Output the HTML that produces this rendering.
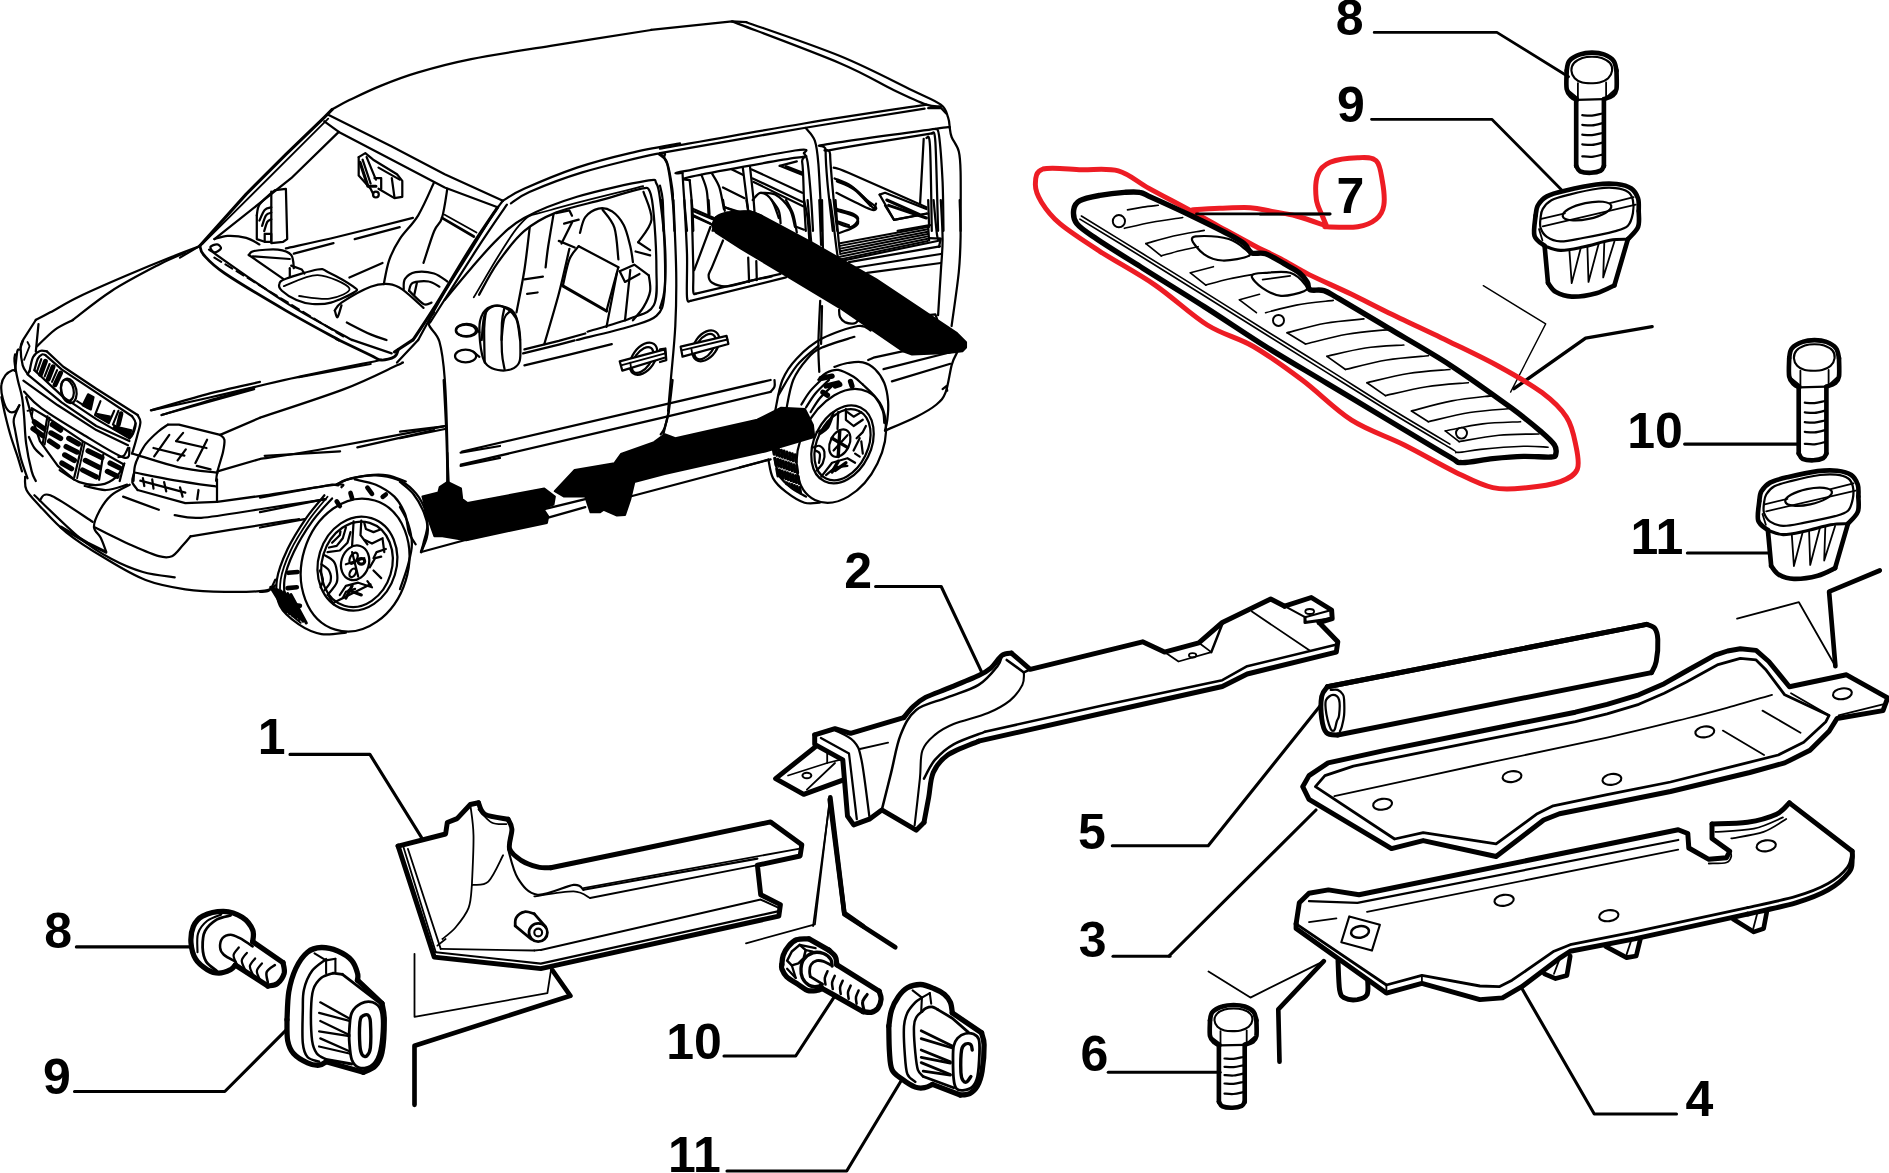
<!DOCTYPE html>
<html><head><meta charset="utf-8"><title>diagram</title>
<style>html,body{margin:0;padding:0;background:#fff;overflow:hidden}svg{display:block}
text{font-family:"Liberation Sans",Arial,sans-serif;font-weight:bold;fill:#000}
path,ellipse{stroke-linecap:round;stroke-linejoin:round}</style></head>
<body><svg width="1889" height="1173" viewBox="0 0 1889 1173">
<rect width="1889" height="1173" fill="#fff"/>
<text x="1335.7" y="34.8" font-size="50">8</text>
<path d="M1374.2 32.4 L1496.9 32.4 L1568.5 76.7" fill="none" stroke="#000" stroke-width="2.8" />
<text x="1337.0" y="121.7" font-size="50">9</text>
<path d="M1371.5 119.3 L1491.8 119.3 L1561.7 189.9" fill="none" stroke="#000" stroke-width="2.8" />
<text x="1336.4" y="213.1" font-size="50">7</text>
<path d="M1260.0 214.1 L1329.9 214.1" fill="none" stroke="#000" stroke-width="2.8" />
<path d="M1483.3 285.7 L1545.7 323.9 L1510.6 392.1" fill="none" stroke="#000" stroke-width="1.35" />
<path d="M1652.1 326.6 L1585.6 338.2 L1514.0 388.7" fill="none" stroke="#000" stroke-width="3.38" />
<path d="M1043.0 169.0 C1050.7 166.7 1068.9 169.3 1081.4 169.7 C1093.9 170.0 1107.0 167.8 1118.3 170.9 C1129.5 174.0 1136.7 181.6 1149.0 188.4 C1161.2 195.1 1180.2 205.0 1191.9 211.4 C1203.7 217.8 1209.3 221.1 1219.6 226.8 C1229.8 232.4 1243.1 239.8 1253.4 245.2 C1263.6 250.6 1271.8 254.1 1281.0 259.0 C1290.2 263.9 1296.8 268.5 1308.6 274.4 C1320.4 280.2 1338.3 287.9 1351.6 294.3 C1364.9 300.7 1372.1 304.8 1388.4 312.7 C1404.8 320.7 1431.4 332.9 1449.9 341.9 C1468.3 350.9 1483.6 358.0 1499.0 366.5 C1514.3 374.9 1530.7 384.1 1542.0 392.6 C1553.2 401.0 1560.9 408.4 1566.5 417.1 C1572.2 425.8 1574.0 436.1 1575.7 444.8 C1577.5 453.5 1579.8 463.2 1577.3 469.3 C1574.7 475.5 1568.8 478.5 1560.4 481.6 C1551.9 484.7 1537.9 486.7 1526.6 487.7 C1515.4 488.8 1504.6 490.3 1492.8 487.7 C1481.1 485.2 1470.8 479.6 1456.0 472.4 C1441.2 465.2 1421.2 453.5 1403.8 444.8 C1386.4 436.1 1368.5 430.9 1351.6 420.2 C1334.7 409.4 1318.9 392.6 1302.5 380.3 C1286.1 368.0 1269.2 355.7 1253.4 346.5 C1237.5 337.3 1223.7 335.2 1207.3 325.0 C1190.9 314.8 1173.0 297.4 1155.1 285.1 C1137.2 272.8 1115.7 261.6 1099.8 251.3 C1084.0 241.1 1069.6 231.9 1059.9 223.7 C1050.2 215.5 1045.6 208.8 1041.5 202.2 C1037.4 195.5 1035.1 189.3 1035.4 183.8 C1035.6 178.2 1035.4 171.4 1043.0 169.0Z" fill="none" stroke="#ed1c24" stroke-width="4.96" />
<path d="M1191.9 209.9 C1196.5 209.6 1209.9 208.7 1219.6 208.3 C1229.3 208.0 1241.6 207.2 1250.3 207.7 C1259.0 208.2 1264.1 210.0 1271.8 211.4 C1279.4 212.8 1287.6 213.7 1296.3 216.0 C1305.0 218.3 1318.9 223.4 1324.0 225.2 C1329.1 227.0 1321.4 226.5 1327.0 226.8 C1332.7 227.0 1349.6 228.0 1357.7 226.8 C1365.9 225.5 1371.8 222.7 1376.2 219.1 C1380.5 215.5 1382.8 211.7 1383.8 205.3 C1384.9 198.9 1383.6 188.1 1382.3 180.7 C1381.0 173.3 1380.3 164.6 1376.2 160.7 C1372.1 156.9 1365.4 157.4 1357.7 157.7 C1350.1 157.9 1336.8 159.5 1330.1 162.3 C1323.5 165.1 1320.1 168.4 1317.8 174.6 C1315.5 180.7 1315.5 192.2 1316.3 199.1 C1317.1 206.0 1320.6 211.4 1322.4 216.0 C1324.2 220.6 1326.3 225.0 1327.0 226.8" fill="none" stroke="#ed1c24" stroke-width="4.96" />
<path d="M1196.5 213.9 L1330.1 213.9" fill="none" stroke="#000" stroke-width="2.8" />
<path d="M1073.7 209.9 C1074.2 206.0 1075.5 203.1 1079.9 200.7 C1084.2 198.3 1092.4 196.8 1099.8 195.4 C1107.3 194.1 1117.7 192.9 1124.4 192.4 C1131.0 191.9 1135.1 191.5 1139.7 192.4 C1144.4 193.2 1143.3 193.7 1152.0 197.6 C1160.7 201.5 1179.1 209.9 1191.9 216.0 C1204.7 222.2 1220.1 229.8 1228.8 234.4 C1237.5 239.0 1240.3 240.6 1244.1 243.6 C1248.0 246.7 1248.2 251.2 1251.8 252.9 C1255.4 254.5 1260.3 252.0 1265.6 253.8 C1271.0 255.6 1278.4 260.4 1284.1 263.6 C1289.7 266.8 1295.6 269.7 1299.4 272.8 C1303.2 275.9 1305.3 279.2 1307.1 282.0 C1308.9 284.8 1307.3 288.3 1310.2 289.7 C1313.0 291.1 1319.1 289.1 1324.0 290.6 C1328.8 292.2 1328.6 292.7 1339.3 298.9 C1350.1 305.2 1370.0 317.1 1388.4 328.1 C1406.9 339.1 1429.4 351.6 1449.9 364.9 C1470.3 378.2 1495.9 396.7 1511.3 407.9 C1526.6 419.2 1534.8 426.3 1542.0 432.5 C1549.1 438.6 1551.9 441.2 1554.3 444.8 C1556.6 448.3 1556.3 451.9 1555.8 454.0 C1555.3 456.0 1556.6 456.6 1551.2 457.0 C1545.8 457.5 1533.3 456.2 1523.5 456.4 C1513.8 456.7 1503.1 457.6 1492.8 458.6 C1482.6 459.6 1469.3 462.8 1462.1 462.6 C1455.0 462.3 1462.1 464.1 1449.9 457.0 C1437.6 450.0 1408.9 432.5 1388.4 420.2 C1368.0 407.9 1347.5 395.6 1327.0 383.4 C1306.6 371.1 1286.1 359.3 1265.6 346.5 C1245.2 333.7 1224.7 319.6 1204.2 306.6 C1183.8 293.5 1160.7 279.5 1142.8 268.2 C1124.9 257.0 1107.8 246.5 1096.8 239.0 C1085.8 231.6 1080.6 228.6 1076.8 223.7 C1073.0 218.8 1073.2 213.7 1073.7 209.9Z" fill="none" stroke="#000" stroke-width="5.42" />
<path d="M1079.9 219.1 C1090.4 225.5 1122.1 244.7 1142.8 257.5 C1163.5 270.3 1183.8 283.1 1204.2 295.8 C1224.7 308.6 1245.2 321.4 1265.6 334.2 C1286.1 347.0 1306.6 359.8 1327.0 372.6 C1347.5 385.4 1368.0 398.4 1388.4 411.0 C1408.9 423.5 1438.3 440.9 1449.9 447.8 C1461.4 454.7 1452.4 452.2 1457.5 452.4 C1462.7 452.7 1469.6 450.4 1480.6 449.4 C1491.6 448.3 1512.3 446.7 1523.5 446.3 C1534.8 445.9 1544.0 447.1 1548.1 447.2" fill="none" stroke="#000" stroke-width="1.65" />
<path d="M1081.4 216.0 C1091.6 222.3 1122.3 241.1 1142.8 253.8 C1163.3 266.4 1183.8 279.1 1204.2 291.9 C1224.7 304.6 1245.2 317.7 1265.6 330.5 C1286.1 343.3 1306.6 355.8 1327.0 368.6 C1347.5 381.4 1368.0 394.7 1388.4 407.3 C1408.9 419.9 1439.6 438.0 1449.9 444.1" fill="none" stroke="#000" stroke-width="1.65" />
<path d="M1127.5 209.9 C1130.0 209.4 1137.7 207.9 1142.8 207.1 C1147.9 206.3 1155.6 205.6 1158.2 205.3" fill="none" stroke="#000" stroke-width="1.65" />
<path d="M1124.4 228.3 C1129.0 227.3 1142.3 223.9 1152.0 222.2 C1161.8 220.4 1177.6 218.3 1182.7 217.5" fill="none" stroke="#000" stroke-width="1.65" />
<path d="M1145.9 243.6 C1150.5 242.4 1163.8 238.2 1173.5 236.0 C1183.2 233.8 1199.1 231.4 1204.2 230.4" fill="none" stroke="#000" stroke-width="1.65" />
<path d="M1145.9 243.6 L1161.2 255.9" fill="none" stroke="#000" stroke-width="1.65" />
<path d="M1161.2 255.9 C1164.3 255.1 1173.5 252.2 1179.7 250.7 C1185.8 249.2 1195.0 247.4 1198.1 246.7" fill="none" stroke="#000" stroke-width="1.65" />
<path d="M1191.9 239.0 C1191.9 236.0 1198.1 236.0 1204.2 236.0 C1210.4 236.0 1222.1 237.0 1228.8 239.0 C1235.4 241.1 1240.8 245.4 1244.1 248.3 C1247.5 251.1 1252.3 253.9 1248.7 255.9 C1245.2 258.0 1230.1 260.8 1222.6 260.5 C1215.2 260.3 1209.3 258.0 1204.2 254.4 C1199.1 250.8 1191.9 242.1 1191.9 239.0Z" fill="none" stroke="#000" stroke-width="2.24" />
<path d="M1190.4 272.8 L1213.4 266.7" fill="none" stroke="#000" stroke-width="1.65" />
<path d="M1190.4 272.8 L1205.8 285.1" fill="none" stroke="#000" stroke-width="1.65" />
<path d="M1205.8 285.1 C1209.6 284.1 1220.9 280.7 1228.8 279.0 C1236.7 277.2 1249.3 275.1 1253.4 274.4" fill="none" stroke="#000" stroke-width="1.65" />
<path d="M1251.8 275.9 C1252.3 273.3 1259.2 273.3 1265.6 272.8 C1272.0 272.3 1283.5 270.8 1290.2 272.8 C1296.8 274.9 1303.2 282.0 1305.5 285.1 C1307.9 288.2 1308.1 289.4 1304.0 291.2 C1299.9 293.0 1287.9 296.4 1281.0 295.8 C1274.1 295.3 1267.4 291.5 1262.6 288.2 C1257.7 284.8 1251.3 278.4 1251.8 275.9Z" fill="none" stroke="#000" stroke-width="2.24" />
<path d="M1262.6 279.6 L1290.2 275.9" fill="none" stroke="#000" stroke-width="1.65" />
<path d="M1239.5 299.8 L1259.5 294.3" fill="none" stroke="#000" stroke-width="1.65" />
<path d="M1239.5 299.8 L1256.4 312.7" fill="none" stroke="#000" stroke-width="1.65" />
<path d="M1265.6 312.7 C1270.7 311.5 1285.1 307.1 1296.3 305.1 C1307.6 303.0 1327.0 301.2 1333.2 300.4" fill="none" stroke="#000" stroke-width="1.65" />
<ellipse cx="1118.9" cy="221.2" rx="6.1" ry="6.1" fill="none" stroke="#000" stroke-width="1.95" transform="rotate(0 1118.9 221.2)"/>
<ellipse cx="1278.5" cy="320.4" rx="5.5" ry="5.5" fill="none" stroke="#000" stroke-width="1.95" transform="rotate(0 1278.5 320.4)"/>
<ellipse cx="1461.5" cy="433.1" rx="5.5" ry="5.5" fill="none" stroke="#000" stroke-width="1.95" transform="rotate(0 1461.5 433.1)"/>
<path d="M1287.1 332.7 C1293.5 331.1 1312.7 325.5 1325.5 323.2 C1338.3 320.9 1357.5 319.6 1363.9 318.9" fill="none" stroke="#000" stroke-width="1.65" />
<path d="M1287.1 332.7 L1305.5 344.0" fill="none" stroke="#000" stroke-width="1.65" />
<path d="M1305.5 344.0 C1312.5 342.4 1333.2 336.6 1347.0 334.2 C1360.8 331.8 1381.5 330.4 1388.4 329.6" fill="none" stroke="#000" stroke-width="1.65" />
<path d="M1327.0 356.3 C1333.4 354.9 1352.6 349.9 1365.4 348.0 C1378.2 346.1 1397.4 345.5 1403.8 345.0" fill="none" stroke="#000" stroke-width="1.65" />
<path d="M1327.0 356.3 L1345.5 369.5" fill="none" stroke="#000" stroke-width="1.65" />
<path d="M1345.5 369.5 C1352.4 367.9 1373.1 362.3 1386.9 360.0 C1400.7 357.7 1421.5 356.4 1428.4 355.7" fill="none" stroke="#000" stroke-width="1.65" />
<path d="M1367.0 382.7 C1373.9 381.2 1394.6 375.7 1408.4 373.5 C1422.2 371.3 1442.9 370.2 1449.9 369.5" fill="none" stroke="#000" stroke-width="1.65" />
<path d="M1367.0 382.7 L1385.4 395.6" fill="none" stroke="#000" stroke-width="1.65" />
<path d="M1385.4 395.6 C1392.3 394.1 1413.0 388.9 1426.8 386.7 C1440.6 384.6 1461.4 383.4 1468.3 382.7" fill="none" stroke="#000" stroke-width="1.65" />
<path d="M1411.5 411.0 C1418.2 409.3 1438.4 403.4 1452.0 400.9 C1465.6 398.3 1486.0 396.5 1492.8 395.6" fill="none" stroke="#000" stroke-width="1.65" />
<path d="M1411.5 411.0 L1428.4 421.7" fill="none" stroke="#000" stroke-width="1.65" />
<path d="M1428.4 421.7 C1435.3 420.2 1456.0 414.7 1469.8 412.5 C1483.6 410.3 1504.4 409.2 1511.3 408.5" fill="none" stroke="#000" stroke-width="1.65" />
<path d="M1445.3 430.9 C1451.5 429.8 1470.2 425.4 1482.7 423.9 C1495.2 422.3 1514.2 422.1 1520.5 421.7" fill="none" stroke="#000" stroke-width="1.65" />
<path d="M1445.3 430.9 L1459.1 441.7" fill="none" stroke="#000" stroke-width="1.65" />
<path d="M1459.1 441.7 C1465.7 440.6 1485.7 436.5 1499.0 435.2 C1512.3 434.0 1532.2 434.2 1538.9 434.0" fill="none" stroke="#000" stroke-width="1.65" />
<path d="M1566.7 70.6 C1567.1 69.0 1567.0 63.6 1569.3 60.9 C1571.5 58.2 1576.3 55.7 1580.1 54.4 C1583.9 53.0 1588.0 52.6 1592.0 52.6 C1596.0 52.6 1600.3 53.0 1603.9 54.4 C1607.5 55.7 1611.6 58.2 1613.6 60.9 C1615.7 63.6 1616.0 69.0 1616.5 70.6" fill="none" stroke="#000" stroke-width="4.65" />
<path d="M1566.7 70.6 C1566.7 73.7 1565.9 84.7 1566.7 89.0 C1567.5 93.3 1569.7 94.8 1571.4 96.6 C1573.1 98.4 1575.9 99.3 1576.8 99.8" fill="none" stroke="#000" stroke-width="4.65" />
<path d="M1616.5 70.6 C1616.5 73.7 1617.1 84.9 1616.5 89.0 C1615.8 93.2 1614.7 93.8 1612.6 95.5 C1610.5 97.2 1605.4 98.6 1603.9 99.2" fill="none" stroke="#000" stroke-width="4.65" />
<path d="M1576.8 99.8 L1603.9 99.2" fill="none" stroke="#000" stroke-width="2.24" />
<path d="M1571.4 70.6 C1571.3 68.1 1572.2 65.1 1574.0 63.0 C1575.8 60.9 1579.3 59.1 1582.3 58.0 C1585.3 57.0 1588.8 56.7 1592.0 56.7 C1595.2 56.7 1598.7 57.0 1601.7 58.0 C1604.7 59.1 1608.2 60.9 1610.0 63.0 C1611.7 65.1 1612.4 68.1 1612.1 70.6 C1611.8 73.1 1610.3 76.2 1608.2 78.2 C1606.1 80.2 1602.3 81.7 1599.6 82.5 C1596.9 83.3 1594.9 83.2 1592.0 83.2 C1589.1 83.2 1585.1 83.3 1582.3 82.5 C1579.4 81.7 1576.5 80.2 1574.7 78.2 C1572.9 76.2 1571.5 73.1 1571.4 70.6Z" fill="none" stroke="#000" stroke-width="2.1" />
<path d="M1577.9 83.2 L1577.9 98.3" fill="none" stroke="#000" stroke-width="1.8" />
<path d="M1606.1 82.5 L1606.1 97.7" fill="none" stroke="#000" stroke-width="1.8" />
<path d="M1569.3 91.2 L1577.9 98.3" fill="none" stroke="#000" stroke-width="1.8" />
<path d="M1614.3 90.1 L1606.1 97.7" fill="none" stroke="#000" stroke-width="1.8" />
<path d="M1576.2 99.8 L1576.2 165.9" fill="none" stroke="#000" stroke-width="4.65" />
<path d="M1603.9 99.2 L1603.9 165.9" fill="none" stroke="#000" stroke-width="4.65" />
<path d="M1576.2 165.9 C1576.8 166.8 1577.6 170.1 1580.1 171.3 C1582.5 172.4 1587.5 172.9 1590.9 172.8 C1594.3 172.7 1598.5 171.8 1600.7 170.6 C1602.8 169.5 1603.4 166.7 1603.9 165.9" fill="none" stroke="#000" stroke-width="4.65" />
<path d="M1582.3 115.2 C1583.9 115.3 1588.7 115.9 1592.0 115.6 C1595.3 115.3 1600.5 113.8 1602.2 113.5" fill="none" stroke="#000" stroke-width="2.24" />
<path d="M1582.3 124.9 C1583.9 125.0 1588.7 125.7 1592.0 125.4 C1595.3 125.1 1600.5 123.6 1602.2 123.2" fill="none" stroke="#000" stroke-width="2.24" />
<path d="M1582.3 134.7 C1583.9 134.8 1588.7 135.4 1592.0 135.1 C1595.3 134.8 1600.5 133.3 1602.2 133.0" fill="none" stroke="#000" stroke-width="2.24" />
<path d="M1582.3 144.4 C1583.9 144.5 1588.7 145.1 1592.0 144.9 C1595.3 144.6 1600.5 143.1 1602.2 142.7" fill="none" stroke="#000" stroke-width="2.24" />
<path d="M1582.3 156.3 C1583.9 156.4 1588.7 157.1 1592.0 156.8 C1595.3 156.5 1600.5 155.0 1602.2 154.6" fill="none" stroke="#000" stroke-width="2.24" />
<path d="M1535.6 215.5 C1536.0 213.8 1536.0 208.6 1537.9 205.4 C1539.8 202.2 1542.4 198.8 1546.9 196.4 C1551.4 193.9 1556.6 192.7 1564.9 190.8 C1573.2 188.8 1587.8 185.6 1596.4 184.5 C1605.0 183.3 1610.9 183.3 1616.7 184.0 C1622.5 184.7 1627.8 186.1 1631.3 188.5 C1634.9 190.9 1636.8 194.9 1638.1 198.6 C1639.3 202.4 1638.6 209.0 1638.7 211.0" fill="none" stroke="#000" stroke-width="4.65" />
<path d="M1535.6 215.5 C1535.4 218.9 1533.0 230.7 1534.5 235.8 C1536.0 240.9 1542.9 244.2 1544.6 245.9" fill="none" stroke="#000" stroke-width="4.65" />
<path d="M1638.7 211.0 C1638.6 213.6 1639.9 222.1 1638.1 226.8 C1636.3 231.5 1629.6 237.1 1627.9 239.2" fill="none" stroke="#000" stroke-width="4.65" />
<path d="M1544.6 245.9 L1548.0 283.1" fill="none" stroke="#000" stroke-width="4.65" />
<path d="M1548.0 283.1 C1549.3 284.6 1551.9 289.8 1555.9 292.1 C1559.8 294.3 1564.9 296.4 1571.7 296.6 C1578.4 296.8 1589.3 295.1 1596.4 293.2 C1603.5 291.3 1611.4 286.6 1614.4 285.3" fill="none" stroke="#000" stroke-width="4.65" />
<path d="M1614.4 285.3 L1627.9 239.2" fill="none" stroke="#000" stroke-width="4.65" />
<path d="M1544.6 245.9 C1547.3 246.7 1554.0 250.2 1560.4 250.4 C1566.8 250.6 1574.7 248.7 1582.9 247.0 C1591.2 245.4 1602.4 241.6 1609.9 240.3 C1617.4 239.0 1624.9 239.4 1627.9 239.2" fill="none" stroke="#000" stroke-width="3.12" />
<path d="M1540.6 217.8 C1541.0 214.6 1541.0 211.7 1542.8 208.8 C1544.6 205.8 1547.0 202.6 1551.4 200.2 C1555.8 197.8 1561.5 196.5 1569.4 194.6 C1577.3 192.6 1591.0 189.6 1598.7 188.5 C1606.4 187.4 1610.7 187.5 1615.6 188.1 C1620.4 188.6 1625.1 189.9 1627.9 191.9 C1630.8 193.9 1632.1 196.6 1632.9 200.2 C1633.7 203.8 1633.7 209.0 1632.9 213.3 C1632.1 217.5 1631.0 222.7 1627.9 225.7 C1624.9 228.7 1621.9 229.2 1614.4 231.3 C1606.9 233.3 1591.9 236.3 1582.9 238.0 C1573.9 239.7 1566.4 241.6 1560.4 241.4 C1554.4 241.2 1550.2 239.2 1546.9 236.9 C1543.6 234.7 1541.6 231.1 1540.6 227.9 C1539.5 224.7 1540.2 221.0 1540.6 217.8Z" fill="none" stroke="#000" stroke-width="2.24" />
<path d="M1541.3 218.9 L1564.9 213.3" fill="none" stroke="#000" stroke-width="1.8" />
<path d="M1609.9 203.1 L1633.6 197.1" fill="none" stroke="#000" stroke-width="1.8" />
<path d="M1542.8 226.3 L1635.8 204.7" fill="none" stroke="#000" stroke-width="1.8" />
<ellipse cx="1587.0" cy="211.0" rx="24.8" ry="8.1" fill="none" stroke="#000" stroke-width="2.24" transform="rotate(-12 1587.0 211.0)"/>
<path d="M1569.4 250.4 L1571.7 283.1 L1580.7 248.2" fill="none" stroke="#000" stroke-width="1.8" />
<path d="M1587.4 247.0 L1588.5 281.9 L1598.7 243.7" fill="none" stroke="#000" stroke-width="1.8" />
<path d="M1604.3 242.5 L1603.2 277.4 L1614.4 241.4" fill="none" stroke="#000" stroke-width="1.8" />
<path d="M1539.0 229.0 L1542.4 240.3" fill="none" stroke="#000" stroke-width="1.8" />
<path d="M1789.2 358.1 C1789.6 356.5 1789.5 351.1 1791.8 348.4 C1794.0 345.7 1798.8 343.2 1802.6 341.9 C1806.4 340.5 1810.5 340.1 1814.5 340.1 C1818.5 340.1 1822.8 340.5 1826.4 341.9 C1830.0 343.2 1834.1 345.7 1836.1 348.4 C1838.2 351.1 1838.5 356.5 1839.0 358.1" fill="none" stroke="#000" stroke-width="4.65" />
<path d="M1789.2 358.1 C1789.2 361.2 1788.4 372.2 1789.2 376.5 C1790.0 380.8 1792.2 382.3 1793.9 384.1 C1795.6 385.9 1798.4 386.8 1799.3 387.3" fill="none" stroke="#000" stroke-width="4.65" />
<path d="M1839.0 358.1 C1839.0 361.2 1839.6 372.4 1839.0 376.5 C1838.3 380.7 1837.2 381.3 1835.1 383.0 C1833.0 384.7 1827.9 386.1 1826.4 386.7" fill="none" stroke="#000" stroke-width="4.65" />
<path d="M1799.3 387.3 L1826.4 386.7" fill="none" stroke="#000" stroke-width="2.24" />
<path d="M1793.9 358.1 C1793.8 355.6 1794.7 352.6 1796.5 350.5 C1798.3 348.4 1801.8 346.6 1804.8 345.5 C1807.8 344.5 1811.3 344.2 1814.5 344.2 C1817.7 344.2 1821.2 344.5 1824.2 345.5 C1827.2 346.6 1830.7 348.4 1832.5 350.5 C1834.2 352.6 1834.9 355.6 1834.6 358.1 C1834.3 360.6 1832.8 363.7 1830.7 365.7 C1828.6 367.7 1824.8 369.2 1822.1 370.0 C1819.4 370.8 1817.4 370.7 1814.5 370.7 C1811.6 370.7 1807.6 370.8 1804.8 370.0 C1801.9 369.2 1799.0 367.7 1797.2 365.7 C1795.4 363.7 1794.0 360.6 1793.9 358.1Z" fill="none" stroke="#000" stroke-width="2.1" />
<path d="M1800.4 370.7 L1800.4 385.8" fill="none" stroke="#000" stroke-width="1.8" />
<path d="M1828.6 370.0 L1828.6 385.2" fill="none" stroke="#000" stroke-width="1.8" />
<path d="M1791.8 378.7 L1800.4 385.8" fill="none" stroke="#000" stroke-width="1.8" />
<path d="M1836.8 377.6 L1828.6 385.2" fill="none" stroke="#000" stroke-width="1.8" />
<path d="M1798.7 387.3 L1798.7 453.4" fill="none" stroke="#000" stroke-width="4.65" />
<path d="M1826.4 386.7 L1826.4 453.4" fill="none" stroke="#000" stroke-width="4.65" />
<path d="M1798.7 453.4 C1799.3 454.3 1800.1 457.6 1802.6 458.8 C1805.0 459.9 1810.0 460.4 1813.4 460.3 C1816.8 460.2 1821.0 459.3 1823.2 458.1 C1825.3 457.0 1825.9 454.2 1826.4 453.4" fill="none" stroke="#000" stroke-width="4.65" />
<path d="M1804.8 402.7 C1806.4 402.8 1811.2 403.4 1814.5 403.1 C1817.8 402.8 1823.0 401.3 1824.7 401.0" fill="none" stroke="#000" stroke-width="2.24" />
<path d="M1804.8 412.4 C1806.4 412.5 1811.2 413.2 1814.5 412.9 C1817.8 412.6 1823.0 411.1 1824.7 410.7" fill="none" stroke="#000" stroke-width="2.24" />
<path d="M1804.8 422.2 C1806.4 422.3 1811.2 422.9 1814.5 422.6 C1817.8 422.3 1823.0 420.8 1824.7 420.5" fill="none" stroke="#000" stroke-width="2.24" />
<path d="M1804.8 431.9 C1806.4 432.0 1811.2 432.6 1814.5 432.4 C1817.8 432.1 1823.0 430.6 1824.7 430.2" fill="none" stroke="#000" stroke-width="2.24" />
<path d="M1804.8 443.8 C1806.4 443.9 1811.2 444.6 1814.5 444.3 C1817.8 444.0 1823.0 442.5 1824.7 442.1" fill="none" stroke="#000" stroke-width="2.24" />
<path d="M1759.3 501.0 C1759.6 499.4 1759.6 494.3 1761.4 491.3 C1763.3 488.2 1765.8 485.0 1770.1 482.6 C1774.4 480.3 1779.5 479.1 1787.4 477.2 C1795.4 475.3 1809.4 472.2 1817.7 471.1 C1826.0 470.1 1831.6 470.1 1837.2 470.7 C1842.8 471.3 1847.9 472.7 1851.3 475.0 C1854.7 477.4 1856.6 481.2 1857.8 484.8 C1859.0 488.4 1858.3 494.7 1858.4 496.7" fill="none" stroke="#000" stroke-width="4.65" />
<path d="M1759.3 501.0 C1759.1 504.3 1756.8 515.6 1758.2 520.5 C1759.6 525.4 1766.3 528.6 1767.9 530.2" fill="none" stroke="#000" stroke-width="4.65" />
<path d="M1858.4 496.7 C1858.3 499.2 1859.5 507.3 1857.8 511.8 C1856.1 516.3 1849.7 521.8 1848.0 523.7" fill="none" stroke="#000" stroke-width="4.65" />
<path d="M1767.9 530.2 L1771.2 566.0" fill="none" stroke="#000" stroke-width="4.65" />
<path d="M1771.2 566.0 C1772.5 567.4 1775.0 572.5 1778.8 574.6 C1782.6 576.8 1787.4 578.8 1793.9 578.9 C1800.4 579.1 1810.9 577.5 1817.7 575.7 C1824.6 573.9 1832.2 569.4 1835.1 568.1" fill="none" stroke="#000" stroke-width="4.65" />
<path d="M1835.1 568.1 L1848.0 523.7" fill="none" stroke="#000" stroke-width="4.65" />
<path d="M1767.9 530.2 C1770.5 531.0 1777.0 534.4 1783.1 534.6 C1789.2 534.7 1796.8 532.9 1804.7 531.3 C1812.7 529.7 1823.5 526.1 1830.7 524.8 C1837.9 523.6 1845.2 523.9 1848.0 523.7" fill="none" stroke="#000" stroke-width="3.12" />
<path d="M1764.0 503.2 C1764.4 500.1 1764.5 497.3 1766.2 494.5 C1767.9 491.7 1770.2 488.6 1774.4 486.3 C1778.7 484.0 1784.2 482.8 1791.8 480.9 C1799.3 479.0 1812.5 476.1 1819.9 475.0 C1827.3 474.0 1831.4 474.1 1836.1 474.6 C1840.8 475.1 1845.3 476.3 1848.0 478.3 C1850.8 480.2 1852.0 482.9 1852.8 486.3 C1853.6 489.7 1853.6 494.8 1852.8 498.8 C1852.0 502.9 1851.0 507.9 1848.0 510.8 C1845.1 513.6 1842.3 514.2 1835.1 516.2 C1827.8 518.1 1813.4 521.0 1804.7 522.7 C1796.1 524.3 1788.9 526.1 1783.1 525.9 C1777.3 525.7 1773.3 523.7 1770.1 521.6 C1766.9 519.4 1765.1 516.0 1764.0 512.9 C1763.0 509.8 1763.7 506.2 1764.0 503.2Z" fill="none" stroke="#000" stroke-width="2.24" />
<path d="M1764.7 504.3 L1787.4 498.8" fill="none" stroke="#000" stroke-width="1.8" />
<path d="M1830.7 489.1 L1853.5 483.3" fill="none" stroke="#000" stroke-width="1.8" />
<path d="M1766.2 511.4 L1855.6 490.6" fill="none" stroke="#000" stroke-width="1.8" />
<ellipse cx="1808.6" cy="496.7" rx="23.8" ry="7.8" fill="none" stroke="#000" stroke-width="2.24" transform="rotate(-12 1808.6 496.7)"/>
<path d="M1791.8 534.6 L1793.9 566.0 L1802.6 532.4" fill="none" stroke="#000" stroke-width="1.8" />
<path d="M1809.1 531.3 L1810.2 564.9 L1819.9 528.1" fill="none" stroke="#000" stroke-width="1.8" />
<path d="M1825.3 527.0 L1824.2 560.5 L1835.1 525.9" fill="none" stroke="#000" stroke-width="1.8" />
<path d="M1762.5 514.0 L1765.8 524.8" fill="none" stroke="#000" stroke-width="1.8" />
<text x="1627.2" y="448.0" font-size="50">10</text>
<path d="M1684.6 444.1 L1798.7 444.1" fill="none" stroke="#000" stroke-width="3.12" />
<text x="1630.5" y="554.1" font-size="50">11</text>
<path d="M1687.4 553.0 L1769.0 553.0" fill="none" stroke="#000" stroke-width="3.12" />
<path d="M1327.4 686.8 L1646.7 624.4" fill="none" stroke="#000" stroke-width="4.96" />
<path d="M1327.4 686.8 L1646.7 624.4" fill="none" stroke="#000" stroke-width="4.96" />
<path d="M1646.7 624.4 C1648.1 625.0 1652.8 625.7 1654.7 628.2 C1656.5 630.7 1657.6 633.7 1657.8 639.3 C1658.1 644.8 1657.3 655.9 1656.2 661.5 C1655.2 667.0 1652.3 670.7 1651.5 672.6" fill="none" stroke="#000" stroke-width="4.96" />
<path d="M1651.5 672.6 L1337.6 735.0" fill="none" stroke="#000" stroke-width="4.96" />
<path d="M1337.6 735.0 C1335.7 734.7 1329.1 735.6 1326.5 732.8 C1323.8 730.1 1322.5 724.6 1321.7 718.5 C1320.9 712.5 1320.8 701.6 1321.7 696.4 C1322.7 691.1 1326.5 688.4 1327.4 686.8" fill="none" stroke="#000" stroke-width="4.96" />
<path d="M1333.0 694.9 C1330.8 694.9 1327.3 697.5 1326.1 699.9 C1324.9 702.3 1325.5 705.8 1325.7 709.1 C1326.0 712.4 1326.8 716.5 1327.6 719.8 C1328.4 723.1 1329.8 727.1 1330.7 729.0 C1331.6 730.9 1332.3 730.9 1333.0 730.9 C1333.7 730.9 1334.3 730.6 1334.9 729.0 C1335.5 727.4 1336.1 723.6 1336.8 721.3 C1337.5 719.0 1338.7 718.8 1339.1 715.2 C1339.5 711.6 1340.1 703.3 1339.1 699.9 C1338.1 696.5 1335.2 694.9 1333.0 694.9Z" fill="none" stroke="#000" stroke-width="2.24" />
<path d="M1330.7 689.9 C1331.8 689.9 1335.6 689.1 1337.6 689.9 C1339.6 690.7 1341.8 692.8 1342.9 694.5 C1344.0 696.2 1343.9 696.4 1344.1 699.9 C1344.3 703.4 1344.5 710.7 1344.1 715.2 C1343.7 719.7 1342.5 724.0 1341.8 726.7 C1341.1 729.4 1340.2 730.5 1339.9 731.3" fill="none" stroke="#000" stroke-width="2.24" />
<path d="M1302.7 786.7 L1309.0 775.6 L1328.1 762.9 L1385.1 750.3 L1480.3 731.2 L1575.4 712.2 L1607.1 704.3 L1638.8 694.8 L1664.2 683.7 L1686.4 671.0 L1714.9 655.1 L1727.6 651.0 L1740.3 648.8 L1756.1 650.4 L1768.8 661.5 L1789.4 686.8 L1846.5 674.8 L1887.7 697.9 L1883.0 710.6 L1837.0 718.5 L1829.1 731.2 L1810.0 750.3 L1784.7 762.9 L1749.8 772.5 L1670.5 791.5 L1607.1 804.2 L1559.5 813.7 L1543.7 820.0 L1496.1 856.5 L1423.2 840.6 L1391.5 848.6 L1309.0 799.4Z" fill="none" stroke="#000" stroke-width="4.96" />
<path d="M1315.4 786.7 L1324.9 775.6 L1353.4 766.1 L1480.3 740.7 L1575.4 721.7 L1607.1 713.8 L1638.8 704.3 L1664.2 693.2 L1686.4 682.1 L1718.1 664.6 L1740.3 658.3 L1756.1 659.9 L1765.6 669.4 L1784.7 694.8 L1829.1 715.4 L1825.9 721.7 L1803.7 742.3 L1778.3 755.0 L1733.9 766.1 L1670.5 782.0 L1607.1 794.7 L1553.2 805.8 L1537.3 813.7 L1496.1 843.8 L1423.2 832.7 L1394.6 839.0Z" fill="none" stroke="#000" stroke-width="2.8" />
<path d="M1334.4 796.2 C1358.7 791.0 1434.8 774.3 1480.3 764.5 C1525.7 754.8 1572.7 745.2 1607.1 737.6 C1641.5 729.9 1665.2 723.8 1686.4 718.5 C1707.5 713.3 1719.7 709.8 1733.9 705.9 C1748.2 701.9 1765.6 696.6 1772.0 694.8" fill="none" stroke="#000" stroke-width="1.8" />
<path d="M1791.0 693.2 L1829.1 715.4" fill="none" stroke="#000" stroke-width="1.8" />
<path d="M1762.5 710.6 L1800.5 732.8" fill="none" stroke="#000" stroke-width="1.8" />
<path d="M1722.8 730.6 L1764.1 755.0" fill="none" stroke="#000" stroke-width="1.8" />
<path d="M1838.6 715.4 L1883.0 704.3" fill="none" stroke="#000" stroke-width="1.8" />
<ellipse cx="1382.6" cy="804.2" rx="9.5" ry="5.4" fill="none" stroke="#000" stroke-width="2.1" transform="rotate(-8 1382.6 804.2)"/>
<ellipse cx="1512.0" cy="776.6" rx="9.5" ry="5.4" fill="none" stroke="#000" stroke-width="2.1" transform="rotate(-8 1512.0 776.6)"/>
<ellipse cx="1611.9" cy="779.4" rx="9.5" ry="5.4" fill="none" stroke="#000" stroke-width="2.1" transform="rotate(-8 1611.9 779.4)"/>
<ellipse cx="1704.8" cy="731.9" rx="9.5" ry="5.4" fill="none" stroke="#000" stroke-width="2.1" transform="rotate(-8 1704.8 731.9)"/>
<ellipse cx="1842.4" cy="693.8" rx="9.5" ry="5.4" fill="none" stroke="#000" stroke-width="2.1" transform="rotate(-8 1842.4 693.8)"/>
<path d="M1737.1 618.7 L1798.9 602.2 L1835.4 666.2" fill="none" stroke="#000" stroke-width="1.8" />
<path d="M1879.8 570.5 L1829.1 591.7 L1835.4 666.2" fill="none" stroke="#000" stroke-width="4.65" />
<path d="M1296.1 923.8 L1299.3 902.8 L1309.0 893.2 L1328.4 889.9 L1359.0 894.8 L1678.2 829.7 L1687.8 833.5 L1688.8 848.0 L1708.8 859.3 L1726.5 857.7 L1729.7 851.3 L1712.0 838.4 L1712.0 823.9" fill="none" stroke="#000" stroke-width="4.96" />
<path d="M1712.0 823.9 C1717.9 823.6 1736.7 823.9 1747.5 822.2 C1758.2 820.6 1769.5 817.4 1776.5 814.2 C1783.5 811.0 1787.2 804.8 1789.4 802.9" fill="none" stroke="#000" stroke-width="4.96" />
<path d="M1789.4 802.9 L1852.2 851.3" fill="none" stroke="#000" stroke-width="4.96" />
<path d="M1852.2 851.3 C1851.4 853.9 1851.4 862.0 1847.4 867.4 C1843.4 872.7 1836.7 878.7 1828.1 883.5 C1819.5 888.3 1809.3 892.4 1795.8 896.4 C1782.4 900.4 1755.5 905.8 1747.5 907.7" fill="none" stroke="#000" stroke-width="2.8" />
<path d="M1747.5 907.7 L1634.6 931.9 L1570.2 944.7 L1554.0 951.2 L1512.1 980.2 L1499.2 986.7 L1479.9 986.0 L1421.9 975.4 L1386.4 985.0 L1296.1 923.8" fill="none" stroke="#000" stroke-width="2.8" />
<path d="M1852.2 851.3 C1852.2 852.6 1852.8 855.8 1852.2 859.3 C1851.7 862.8 1853.1 867.1 1849.0 872.2 C1845.0 877.3 1836.9 884.8 1828.1 889.9 C1819.2 895.0 1809.3 898.8 1795.8 902.8 C1782.4 906.9 1755.5 912.2 1747.5 914.1" fill="none" stroke="#000" stroke-width="4.96" />
<path d="M1747.5 914.1 L1634.6 938.9 L1570.2 951.2 L1560.5 957.6 L1521.8 986.7 L1502.5 997.9 L1479.9 999.6 L1421.9 983.4 L1386.4 993.1 L1296.1 928.6 L1296.1 923.8" fill="none" stroke="#000" stroke-width="4.96" />
<path d="M1386.4 985.0 L1386.4 993.1" fill="none" stroke="#000" stroke-width="1.8" />
<path d="M1421.9 975.4 L1421.9 983.4" fill="none" stroke="#000" stroke-width="1.8" />
<path d="M1309.0 901.2 L1357.4 902.8 L1678.2 840.0" fill="none" stroke="#000" stroke-width="2.24" />
<path d="M1367.0 911.9 L1678.2 849.6" fill="none" stroke="#000" stroke-width="1.8" />
<path d="M1309.0 922.2 L1336.4 918.3" fill="none" stroke="#000" stroke-width="1.8" />
<path d="M1715.2 831.9 C1721.7 831.4 1742.6 831.1 1753.9 828.7 C1765.2 826.3 1778.1 819.3 1782.9 817.4" fill="none" stroke="#000" stroke-width="1.8" />
<path d="M1731.3 838.4 C1736.7 837.3 1754.5 835.1 1763.6 831.9 C1772.7 828.7 1782.4 821.2 1786.2 819.0" fill="none" stroke="#000" stroke-width="1.8" />
<path d="M1729.7 851.3 C1730.0 852.1 1731.9 854.2 1731.3 856.1 C1730.8 858.0 1730.3 861.3 1726.5 862.5 C1722.8 863.8 1711.7 863.3 1708.8 863.5" fill="none" stroke="#000" stroke-width="1.8" />
<ellipse cx="1504.1" cy="900.3" rx="9.7" ry="5.5" fill="none" stroke="#000" stroke-width="2.1" transform="rotate(-8 1504.1 900.3)"/>
<ellipse cx="1608.8" cy="915.7" rx="9.7" ry="5.5" fill="none" stroke="#000" stroke-width="2.1" transform="rotate(-8 1608.8 915.7)"/>
<ellipse cx="1766.2" cy="845.8" rx="9.7" ry="5.5" fill="none" stroke="#000" stroke-width="2.1" transform="rotate(-8 1766.2 845.8)"/>
<path d="M1349.3 916.4 L1379.9 924.8 L1371.9 950.6 L1341.3 942.2Z" fill="none" stroke="#000" stroke-width="2.1" />
<ellipse cx="1360.0" cy="931.9" rx="9.0" ry="5.8" fill="none" stroke="#000" stroke-width="2.52" transform="rotate(-8 1360.0 931.9)"/>
<path d="M1338.0 960.9 C1338.3 965.7 1338.6 983.7 1339.6 989.9 C1340.7 996.1 1341.5 996.3 1344.5 997.9 C1347.4 999.6 1353.6 1000.1 1357.4 999.6 C1361.1 999.0 1365.3 997.9 1367.0 994.7 C1368.8 991.5 1367.6 982.6 1367.7 980.2" fill="none" stroke="#000" stroke-width="4.96" />
<path d="M1544.4 973.8 L1555.6 978.6 L1566.9 975.4 L1570.2 956.0" fill="none" stroke="#000" stroke-width="4.65" />
<path d="M1558.9 960.9 L1554.0 973.8" fill="none" stroke="#000" stroke-width="1.8" />
<path d="M1605.6 946.4 L1626.6 957.6 L1636.2 956.0 L1640.4 938.9" fill="none" stroke="#000" stroke-width="4.65" />
<path d="M1631.4 939.9 L1626.6 954.4" fill="none" stroke="#000" stroke-width="1.8" />
<path d="M1733.0 919.0 L1753.9 931.9 L1763.6 928.6 L1766.8 911.9" fill="none" stroke="#000" stroke-width="4.65" />
<path d="M1757.1 914.1 L1753.3 928.6" fill="none" stroke="#000" stroke-width="1.8" />
<text x="1685.6" y="1115.6" font-size="50">4</text>
<path d="M1676.5 1114.0 L1594.3 1114.0 L1521.8 988.3" fill="none" stroke="#000" stroke-width="3.12" />
<path d="M814.7 734.9 L835.0 728.7 L850.6 733.3 L903.7 717.7" fill="none" stroke="#000" stroke-width="4.96" />
<path d="M903.7 717.7 C905.2 715.9 909.4 710.2 913.0 706.8 C916.7 703.4 919.3 700.7 925.5 697.4 C931.8 694.2 941.7 691.1 950.5 687.4 C959.4 683.8 971.9 678.8 978.6 675.6 C985.4 672.3 987.2 671.1 991.1 667.8 C995.0 664.4 998.7 657.7 1002.1 655.3 C1005.4 652.8 1009.9 653.4 1011.4 653.1" fill="none" stroke="#000" stroke-width="4.96" />
<path d="M1011.4 653.1 L1030.2 669.3 L1142.6 641.8 L1164.5 652.1 L1198.8 642.8 L1222.3 622.5 L1270.7 599.0 L1284.7 606.2" fill="none" stroke="#000" stroke-width="4.96" />
<path d="M1164.5 652.1 L1178.5 661.5 L1211.3 652.1 L1198.8 642.8" fill="none" stroke="#000" stroke-width="1.8" />
<path d="M1211.3 652.1 L1222.3 624.0" fill="none" stroke="#000" stroke-width="2.52" />
<ellipse cx="1192.6" cy="655.3" rx="3.7" ry="2.2" fill="none" stroke="#000" stroke-width="1.8" transform="rotate(0 1192.6 655.3)"/>
<path d="M1284.7 606.2 L1311.3 597.5 L1331.6 610.0 L1332.2 618.7 L1319.1 622.5" fill="none" stroke="#000" stroke-width="4.96" />
<path d="M1284.7 606.2 L1305.0 617.2 L1331.6 610.0" fill="none" stroke="#000" stroke-width="2.1" />
<path d="M1305.0 617.2 L1305.0 622.5 L1332.2 618.7" fill="none" stroke="#000" stroke-width="3.08" />
<ellipse cx="1309.7" cy="611.5" rx="4.4" ry="2.5" fill="none" stroke="#000" stroke-width="1.8" transform="rotate(0 1309.7 611.5)"/>
<path d="M1319.1 622.5 L1337.8 641.8 L1336.3 652.1 L1247.2 674.0 L1222.3 686.5 L1103.6 713.0 L978.6 741.2" fill="none" stroke="#000" stroke-width="4.96" />
<path d="M1251.9 611.5 L1309.7 650.6" fill="none" stroke="#000" stroke-width="1.8" />
<path d="M1337.8 644.3 L1247.2 666.2 L1222.3 680.2 L1103.6 705.2 L984.9 731.8" fill="none" stroke="#000" stroke-width="2.52" />
<path d="M984.9 731.8 C979.7 733.9 962.0 739.6 953.6 744.3 C945.3 749.0 939.9 754.2 934.9 759.9 C930.0 765.6 925.8 775.5 924.0 778.6" fill="none" stroke="#000" stroke-width="2.52" />
<path d="M978.6 741.2 C973.4 743.5 954.9 750.0 947.4 755.2 C939.9 760.4 936.5 765.4 933.3 772.4 C930.2 779.4 930.2 789.0 928.7 797.4 C927.1 805.7 924.8 818.2 924.0 822.4" fill="none" stroke="#000" stroke-width="4.96" />
<path d="M1006.7 659.9 L1023.9 672.4" fill="none" stroke="#000" stroke-width="2.52" />
<path d="M1023.9 672.4 L1030.2 669.3" fill="none" stroke="#000" stroke-width="2.52" />
<path d="M1023.9 672.4 C1023.7 674.5 1024.7 680.2 1022.4 684.9 C1020.0 689.6 1015.6 695.9 1009.9 700.6 C1004.1 705.2 997.4 709.1 988.0 713.0 C978.6 716.9 962.5 720.3 953.6 724.0 C944.8 727.6 940.1 730.5 934.9 734.9 C929.7 739.3 924.9 743.2 922.4 750.5 C919.9 757.8 921.2 766.1 919.9 778.6 C918.6 791.1 915.5 817.7 914.6 825.5" fill="none" stroke="#000" stroke-width="2.1" />
<path d="M1002.1 655.3 C1001.3 657.1 1001.3 661.2 997.4 666.2 C993.5 671.1 987.0 679.7 978.6 684.9 C970.3 690.1 957.8 693.3 947.4 697.4 C937.0 701.6 924.0 703.7 916.2 709.9 C908.4 716.2 904.7 724.5 900.6 734.9 C896.4 745.3 894.3 759.9 891.2 772.4 C888.1 784.9 883.4 803.6 881.8 809.9" fill="none" stroke="#000" stroke-width="2.52" />
<path d="M814.7 734.9 L814.7 744.3 L842.8 759.9 L847.5 816.1 L853.7 824.9 L869.3 819.2 L881.8 809.9 L916.2 830.2 L924.0 822.4" fill="none" stroke="#000" stroke-width="4.96" />
<path d="M820.9 738.0 L849.0 753.6 L856.8 819.2" fill="none" stroke="#000" stroke-width="2.24" />
<path d="M835.0 730.2 C838.1 732.0 849.3 736.2 853.7 741.2 C858.1 746.1 858.9 747.4 861.5 759.9 C864.1 772.4 868.0 806.7 869.3 816.1" fill="none" stroke="#000" stroke-width="2.24" />
<path d="M859.9 749.0 L888.1 742.7" fill="none" stroke="#000" stroke-width="1.8" />
<path d="M814.7 747.4 L775.6 778.6 L803.7 794.3 L842.8 780.2" fill="none" stroke="#000" stroke-width="4.96" />
<path d="M827.2 750.5 L827.2 763.0 L788.1 775.5" fill="none" stroke="#000" stroke-width="1.8" />
<path d="M827.2 763.0 L841.8 759.3" fill="none" stroke="#000" stroke-width="1.8" />
<path d="M835.0 763.0 L806.9 789.6" fill="none" stroke="#000" stroke-width="1.8" />
<ellipse cx="806.9" cy="775.5" rx="4.4" ry="2.8" fill="none" stroke="#000" stroke-width="2.1" transform="rotate(0 806.9 775.5)"/>
<text x="844.3" y="588.1" font-size="50">2</text>
<path d="M875.6 586.5 L941.2 586.5 L981.8 672.4" fill="none" stroke="#000" stroke-width="3.12" />
<text x="1078.0" y="848.9" font-size="50">5</text>
<path d="M1112.3 845.8 L1208.2 845.8 L1320.6 705.2" fill="none" stroke="#000" stroke-width="3.12" />
<path d="M830.3 797.4 L813.1 926.1" fill="none" stroke="#000" stroke-width="1.8" />
<path d="M830.3 797.4 L844.3 912.9 L863.1 926.1" fill="none" stroke="#000" stroke-width="4.65" />
<path d="M398.1 846.1 L445.6 834.0 L447.3 822.5 L457.1 818.6 L470.3 804.5 L478.5 802.8" fill="none" stroke="#000" stroke-width="4.96" />
<path d="M478.5 802.8 C479.6 804.7 480.1 811.6 485.0 814.3 C490.0 817.0 504.2 818.4 508.0 819.2" fill="none" stroke="#000" stroke-width="4.96" />
<path d="M508.0 819.2 C508.7 820.9 511.7 824.2 511.9 829.1 C512.2 834.0 508.1 843.6 509.6 848.8 C511.2 854.0 516.5 857.3 521.1 860.3 C525.8 863.3 532.6 865.6 537.5 866.8 C542.5 868.1 548.5 867.6 550.7 867.8" fill="none" stroke="#000" stroke-width="4.96" />
<path d="M550.7 867.8 L642.6 848.8 L770.6 821.9 L801.8 844.8 L800.1 856.0 L757.4 865.2 L760.7 894.7 L780.4 904.6 L778.8 916.1 L540.8 968.6 L434.2 957.1 L398.1 846.1" fill="none" stroke="#000" stroke-width="4.96" />
<path d="M407.9 848.8 L440.7 948.9" fill="none" stroke="#000" stroke-width="1.8" />
<path d="M403.6 847.5 L435.8 952.2" fill="none" stroke="#000" stroke-width="1.8" />
<path d="M440.7 948.9 L534.3 950.5" fill="none" stroke="#000" stroke-width="1.8" />
<path d="M437.4 945.6 L445.6 939.0" fill="none" stroke="#000" stroke-width="1.8" />
<path d="M435.8 952.2 L540.8 963.6 L778.8 911.1" fill="none" stroke="#000" stroke-width="2.1" />
<path d="M540.8 949.9 L760.7 899.6 L778.8 907.9" fill="none" stroke="#000" stroke-width="2.1" />
<path d="M540.8 949.9 L534.3 950.5" fill="none" stroke="#000" stroke-width="1.8" />
<path d="M470.3 804.5 C470.8 809.7 473.3 822.2 473.5 835.6 C473.8 849.0 472.2 876.7 471.9 884.9" fill="none" stroke="#000" stroke-width="1.8" />
<path d="M471.9 884.9 C474.6 884.3 483.1 886.5 488.3 881.6 C493.5 876.7 500.6 859.7 503.1 855.3" fill="none" stroke="#000" stroke-width="1.8" />
<path d="M471.9 884.9 C471.4 888.7 471.4 900.7 468.6 907.9 C465.9 915.0 459.9 922.3 455.5 927.5 C451.1 932.7 444.5 937.1 442.4 939.0" fill="none" stroke="#000" stroke-width="1.8" />
<path d="M478.5 809.4 C480.7 811.6 486.9 820.1 491.6 822.5 C496.2 825.0 503.9 823.9 506.4 824.2" fill="none" stroke="#000" stroke-width="1.8" />
<path d="M508.0 848.8 C509.6 853.7 512.9 870.7 517.9 878.3 C522.8 886.0 528.2 893.6 537.5 894.7 C546.8 895.8 566.0 885.7 573.6 884.9 C581.3 884.1 581.9 889.0 583.5 889.8" fill="none" stroke="#000" stroke-width="2.1" />
<path d="M583.5 889.8 L757.4 858.6" fill="none" stroke="#000" stroke-width="2.1" />
<path d="M534.3 896.4 C540.8 895.5 564.3 891.2 573.6 891.4 C582.9 891.7 587.3 896.9 590.1 898.0" fill="none" stroke="#000" stroke-width="1.8" />
<path d="M590.1 898.0 L757.4 865.2" fill="none" stroke="#000" stroke-width="1.8" />
<path d="M583.5 888.2 L798.5 848.8" fill="none" stroke="#000" stroke-width="1.8" />
<ellipse cx="538.2" cy="932.5" rx="9.2" ry="9.2" fill="none" stroke="#000" stroke-width="2.8" transform="rotate(0 538.2 932.5)"/>
<ellipse cx="538.2" cy="932.5" rx="3.9" ry="3.9" fill="none" stroke="#000" stroke-width="2.1" transform="rotate(0 538.2 932.5)"/>
<path d="M515.2 925.9 C515.4 924.5 514.7 920.0 516.2 917.7 C517.7 915.3 521.4 912.4 524.4 911.8 C527.4 911.1 532.6 913.4 534.3 913.8" fill="none" stroke="#000" stroke-width="2.8" />
<path d="M515.2 925.9 L531.0 939.0" fill="none" stroke="#000" stroke-width="2.8" />
<path d="M534.3 913.8 L545.7 926.9" fill="none" stroke="#000" stroke-width="2.8" />
<path d="M414.5 953.8 L414.5 1016.8 L547.4 993.2 L550.7 971.9" fill="none" stroke="#000" stroke-width="1.8" />
<path d="M552.3 970.2 L570.4 995.8 L414.5 1045.7 L414.5 1104.8" fill="none" stroke="#000" stroke-width="4.65" />
<path d="M829.7 799.5 L814.9 924.3 L746.0 943.3" fill="none" stroke="#000" stroke-width="1.8" />
<path d="M829.7 799.5 L844.4 914.4 L895.3 947.2" fill="none" stroke="#000" stroke-width="4.65" />
<text x="666.2" y="1058.8" font-size="50">10</text>
<path d="M781.8 964.7 C782.1 963.2 782.1 958.5 783.2 955.4 C784.3 952.4 786.1 948.8 788.5 946.2 C790.8 943.5 793.6 940.8 797.1 939.6 C800.5 938.3 807.0 939.0 809.0 938.9" fill="none" stroke="#000" stroke-width="5.27" />
<path d="M809.0 938.9 L828.8 950.1" fill="none" stroke="#000" stroke-width="5.27" />
<path d="M828.8 950.1 C829.9 951.2 834.1 954.3 835.4 956.8 C836.8 959.2 836.5 963.4 836.8 964.7" fill="none" stroke="#000" stroke-width="5.27" />
<path d="M836.8 964.7 L879.1 991.2" fill="none" stroke="#000" stroke-width="5.27" />
<path d="M879.1 991.2 C879.4 992.5 881.3 996.2 881.1 999.1 C880.9 1002.0 879.4 1006.2 877.8 1008.4 C876.1 1010.6 873.6 1011.8 871.2 1012.3 C868.7 1012.9 864.6 1011.8 863.2 1011.7" fill="none" stroke="#000" stroke-width="5.27" />
<path d="M863.2 1011.7 L834.1 995.1 L822.2 988.5" fill="none" stroke="#000" stroke-width="5.27" />
<path d="M822.2 988.5 C821.3 988.9 819.3 990.2 816.9 990.5 C814.5 990.8 810.7 991.5 807.6 990.5 C804.6 989.5 801.9 986.9 798.4 984.6 C794.9 982.2 789.2 979.3 786.5 976.6 C783.7 974.0 782.6 970.7 781.8 968.7 C781.1 966.7 781.8 965.4 781.8 964.7" fill="none" stroke="#000" stroke-width="5.27" />
<path d="M787.1 960.7 L791.8 951.5 L799.7 944.9 L805.7 950.1 L803.7 958.1 L798.4 963.4 L791.8 965.4Z" fill="none" stroke="#000" stroke-width="2.52" />
<path d="M799.7 944.9 L815.6 948.2" fill="none" stroke="#000" stroke-width="2.24" />
<path d="M805.7 950.1 L812.9 951.5" fill="none" stroke="#000" stroke-width="2.24" />
<path d="M791.8 965.4 L795.7 977.9" fill="none" stroke="#000" stroke-width="2.24" />
<path d="M787.1 968.7 L795.7 977.9" fill="none" stroke="#000" stroke-width="2.24" />
<path d="M822.2 984.6 C821.3 984.9 819.1 986.4 816.9 986.5 C814.7 986.7 811.4 986.7 809.0 985.2 C806.5 983.8 803.7 980.7 802.4 977.9 C801.0 975.2 800.8 971.8 801.0 968.7 C801.2 965.6 801.7 962.1 803.7 959.4 C805.7 956.8 809.6 953.8 812.9 952.8 C816.2 951.8 820.5 952.4 823.5 953.5 C826.5 954.6 829.4 957.3 830.8 959.4 C832.2 961.5 831.9 964.9 832.1 966.0" fill="none" stroke="#000" stroke-width="3.38" />
<path d="M810.3 976.6 C810.2 975.7 809.5 973.3 809.6 971.3 C809.7 969.3 809.7 966.5 811.0 964.7 C812.2 962.9 814.8 961.3 816.9 960.7 C819.0 960.2 821.3 960.7 823.5 961.4 C825.7 962.1 829.0 964.2 830.1 964.7" fill="none" stroke="#000" stroke-width="2.8" />
<path d="M810.3 976.6 L822.2 983.9" fill="none" stroke="#000" stroke-width="2.8" />
<path d="M827.5 971.3 C827.1 972.4 825.2 975.7 824.8 977.9 C824.5 980.1 825.4 983.5 825.5 984.6" fill="none" stroke="#000" stroke-width="2.52" />
<path d="M834.8 975.8 C834.3 976.9 832.5 980.2 832.1 982.4 C831.8 984.6 832.7 988.0 832.8 989.1" fill="none" stroke="#000" stroke-width="2.52" />
<path d="M842.7 980.7 C842.3 981.8 840.4 985.1 840.1 987.3 C839.7 989.5 840.6 992.8 840.7 994.0" fill="none" stroke="#000" stroke-width="2.52" />
<path d="M850.7 985.6 C850.2 986.7 848.3 990.0 848.0 992.2 C847.7 994.4 848.6 997.7 848.7 998.8" fill="none" stroke="#000" stroke-width="2.52" />
<path d="M858.6 990.5 C858.2 991.6 856.3 994.9 856.0 997.1 C855.6 999.3 856.5 1002.6 856.6 1003.7" fill="none" stroke="#000" stroke-width="2.52" />
<path d="M867.2 994.5 C866.4 995.7 863.1 999.2 862.6 1001.8 C862.0 1004.3 863.7 1008.4 863.9 1009.7" fill="none" stroke="#000" stroke-width="3.12" />
<path d="M724.0 1056.0 L795.7 1056.0 L834.1 997.1" fill="none" stroke="#000" stroke-width="3.12" />
<path d="M888.8 1026.2 C889.3 1023.5 889.9 1015.1 891.5 1010.3 C893.0 1005.4 895.4 1000.8 898.1 997.1 C900.7 993.3 903.6 989.9 907.3 987.8 C911.1 985.7 916.2 984.4 920.6 984.5 C925.0 984.6 929.8 986.8 933.8 988.5 C937.8 990.1 941.6 992.1 944.4 994.4 C947.2 996.7 949.0 999.3 950.4 1002.4 C951.7 1005.4 952.0 1011.2 952.3 1012.9" fill="none" stroke="#000" stroke-width="5.27" />
<path d="M952.3 1012.9 L981.5 1032.8" fill="none" stroke="#000" stroke-width="5.27" />
<path d="M981.5 1032.8 C981.9 1034.8 984.0 1038.3 984.1 1044.7 C984.2 1051.1 983.2 1064.3 982.1 1071.2 C981.0 1078.0 979.6 1082.0 977.5 1085.7 C975.4 1089.5 972.4 1092.1 969.6 1093.7 C966.7 1095.2 961.8 1094.8 960.3 1095.0" fill="none" stroke="#000" stroke-width="5.27" />
<path d="M960.3 1095.0 L932.5 1084.4" fill="none" stroke="#000" stroke-width="5.27" />
<path d="M932.5 1084.4 C931.2 1085.0 927.4 1087.3 924.6 1087.7 C921.7 1088.2 919.0 1088.5 915.3 1087.1 C911.5 1085.6 905.9 1082.0 902.1 1079.1 C898.2 1076.2 894.2 1074.3 892.1 1069.8 C890.0 1065.4 890.0 1059.9 889.5 1052.6 C888.9 1045.4 888.9 1030.6 888.8 1026.2" fill="none" stroke="#000" stroke-width="5.27" />
<path d="M921.9 997.7 C920.8 998.5 917.7 999.8 915.3 1002.4 C912.9 1004.9 909.2 1009.0 907.3 1012.9 C905.5 1016.9 904.5 1019.6 904.0 1026.2 C903.6 1032.8 904.1 1044.7 904.7 1052.6 C905.3 1060.6 905.6 1069.0 907.3 1073.8 C909.1 1078.7 914.0 1080.4 915.3 1081.8" fill="none" stroke="#000" stroke-width="2.52" />
<path d="M921.9 1011.6 C921.0 1012.5 917.9 1014.5 916.6 1016.9 C915.3 1019.3 914.2 1020.2 914.0 1026.2 C913.7 1032.1 914.6 1045.4 915.3 1052.6 C916.0 1059.9 916.6 1065.9 917.9 1069.8 C919.3 1073.8 922.3 1075.4 923.2 1076.5" fill="none" stroke="#000" stroke-width="2.52" />
<path d="M921.9 1011.6 C922.6 1011.1 924.1 1009.1 925.9 1008.3 C927.6 1007.5 930.5 1006.8 932.5 1007.0 C934.5 1007.2 936.9 1009.2 937.8 1009.6" fill="none" stroke="#000" stroke-width="2.8" />
<path d="M937.8 1009.6 L952.3 1018.2 L968.2 1032.1" fill="none" stroke="#000" stroke-width="2.8" />
<path d="M912.6 990.4 L921.9 997.7 L929.8 993.1" fill="none" stroke="#000" stroke-width="2.1" />
<path d="M921.9 997.7 L921.2 1011.6" fill="none" stroke="#000" stroke-width="2.1" />
<path d="M929.8 993.1 L931.2 1003.7" fill="none" stroke="#000" stroke-width="2.1" />
<path d="M953.7 1046.0 C954.4 1042.5 955.7 1040.2 957.6 1038.1 C959.6 1036.0 962.9 1034.1 965.6 1033.5 C968.2 1032.8 971.3 1033.1 973.5 1034.1 C975.7 1035.1 977.8 1036.3 978.8 1039.4 C979.8 1042.5 979.7 1046.5 979.5 1052.6 C979.3 1058.8 978.7 1070.7 977.5 1076.5 C976.3 1082.2 974.6 1084.7 972.2 1087.1 C969.8 1089.4 965.6 1090.1 962.9 1090.4 C960.3 1090.6 957.9 1090.2 956.3 1088.4 C954.8 1086.5 954.2 1084.0 953.7 1079.1 C953.1 1074.3 953.0 1064.8 953.0 1059.3 C953.0 1053.7 952.9 1049.6 953.7 1046.0Z" fill="none" stroke="#000" stroke-width="2.8" />
<path d="M972.2 1050.0 C972.0 1049.1 972.0 1045.7 970.9 1044.7 C969.8 1043.7 967.1 1043.2 965.6 1044.0 C964.0 1044.9 962.4 1045.3 961.6 1050.0 C960.8 1054.7 960.7 1067.4 960.9 1072.5 C961.2 1077.6 961.9 1078.9 962.9 1080.4 C963.9 1082.0 965.6 1082.4 966.9 1081.8 C968.2 1081.1 970.2 1077.3 970.9 1076.5" fill="none" stroke="#000" stroke-width="3.38" />
<path d="M921.2 1030.8 L952.3 1046.0" fill="none" stroke="#000" stroke-width="2.8" />
<path d="M921.2 1038.7 L952.3 1048.0" fill="none" stroke="#000" stroke-width="2.8" />
<path d="M921.2 1050.0 L950.4 1061.9" fill="none" stroke="#000" stroke-width="2.8" />
<path d="M921.2 1057.3 L950.4 1063.2" fill="none" stroke="#000" stroke-width="2.8" />
<path d="M921.2 1062.6 L950.4 1074.5" fill="none" stroke="#000" stroke-width="2.8" />
<path d="M923.2 1071.2 L950.4 1075.1" fill="none" stroke="#000" stroke-width="2.8" />
<path d="M923.2 1076.5 L953.7 1087.7" fill="none" stroke="#000" stroke-width="2.8" />
<text x="44.3" y="947.5" font-size="50">8</text>
<path d="M76.4 946.9 L192.2 946.9" fill="none" stroke="#000" stroke-width="3.12" />
<text x="43.1" y="1093.8" font-size="50">9</text>
<path d="M74.5 1091.5 L224.8 1091.5 L287.0 1029.1" fill="none" stroke="#000" stroke-width="3.12" />
<path d="M235.3 965.0 C234.5 965.8 233.3 968.3 230.6 969.7 C227.9 971.0 222.8 973.2 219.0 973.2 C215.1 973.2 211.2 972.0 207.3 969.7 C203.4 967.3 198.4 963.7 195.7 959.2 C192.9 954.7 191.4 948.3 191.0 942.9 C190.6 937.5 191.4 931.0 193.3 926.6 C195.3 922.1 197.6 918.6 202.6 916.1 C207.7 913.6 217.0 911.3 223.6 911.4 C230.2 911.6 237.4 914.2 242.2 917.3 C247.1 920.4 251.0 926.0 252.7 930.1 C254.5 934.2 252.7 939.8 252.7 941.7" fill="none" stroke="#000" stroke-width="5.27" />
<path d="M252.7 941.7 L283.0 962.7" fill="none" stroke="#000" stroke-width="5.27" />
<path d="M283.0 962.7 C283.2 964.4 285.1 969.7 284.2 973.2 C283.2 976.7 279.9 981.5 277.2 983.7 C274.5 985.8 269.4 985.6 267.9 986.0" fill="none" stroke="#000" stroke-width="5.27" />
<path d="M267.9 986.0 L235.3 965.0" fill="none" stroke="#000" stroke-width="5.27" />
<path d="M216.6 970.8 C214.9 969.3 208.5 965.4 206.1 961.5 C203.8 957.6 202.8 952.6 202.6 947.5 C202.5 942.5 202.6 935.9 205.0 931.2 C207.3 926.6 212.4 922.2 216.6 919.6 C220.9 917.0 228.3 916.1 230.6 915.4" fill="none" stroke="#000" stroke-width="2.8" />
<path d="M197.5 952.2 C197.6 949.1 196.4 938.8 198.0 933.6 C199.6 928.3 203.4 923.9 207.3 920.8 C211.2 917.6 219.0 915.5 221.3 914.5" fill="none" stroke="#000" stroke-width="2.1" />
<path d="M235.3 961.5 C233.3 960.4 226.1 956.9 223.6 954.5 C221.1 952.2 220.3 950.3 220.1 947.5 C219.9 944.8 220.7 940.4 222.4 938.2 C224.2 936.1 227.7 934.7 230.6 934.7 C233.5 934.7 236.2 936.3 239.9 938.2 C243.6 940.2 250.6 945.0 252.7 946.4" fill="none" stroke="#000" stroke-width="2.52" />
<path d="M238.8 947.5 C237.9 948.8 234.0 952.4 233.6 955.0 C233.2 957.6 236.0 962.0 236.4 963.4" fill="none" stroke="#000" stroke-width="2.24" />
<path d="M246.9 952.9 C246.0 954.1 242.2 957.7 241.8 960.4 C241.4 963.0 244.1 967.3 244.6 968.7" fill="none" stroke="#000" stroke-width="2.24" />
<path d="M255.1 958.5 C254.2 959.7 250.3 963.3 249.9 966.0 C249.5 968.6 252.3 972.9 252.7 974.3" fill="none" stroke="#000" stroke-width="2.24" />
<path d="M262.0 963.4 C261.2 964.6 257.3 968.2 256.9 970.8 C256.5 973.5 259.2 977.8 259.7 979.2" fill="none" stroke="#000" stroke-width="2.24" />
<path d="M274.9 965.0 C273.5 966.2 267.9 969.1 266.7 972.0 C265.5 974.9 267.7 980.7 267.9 982.5" fill="none" stroke="#000" stroke-width="2.52" />
<path d="M287.0 1019.8 C287.3 1015.1 287.4 1000.3 288.8 991.8 C290.3 983.3 292.7 975.1 295.8 968.5 C298.9 961.9 303.2 955.7 307.5 952.2 C311.7 948.7 316.4 947.7 321.4 947.5 C326.5 947.4 332.7 948.9 337.7 951.0 C342.8 953.2 348.4 956.7 351.7 960.4 C355.0 964.0 356.6 969.9 357.5 973.2 C358.5 976.5 357.5 979.0 357.5 980.2" fill="none" stroke="#000" stroke-width="5.27" />
<path d="M357.5 980.2 L382.0 1003.5" fill="none" stroke="#000" stroke-width="5.27" />
<path d="M382.0 1003.5 C382.4 1006.2 384.3 1011.6 384.3 1019.8 C384.3 1027.9 383.6 1044.6 382.0 1052.4 C380.4 1060.1 378.1 1063.0 375.0 1066.3 C371.9 1069.6 365.3 1071.2 363.4 1072.2" fill="none" stroke="#000" stroke-width="5.27" />
<path d="M363.4 1072.2 L326.1 1061.7" fill="none" stroke="#000" stroke-width="5.27" />
<path d="M326.1 1061.7 C324.9 1062.3 322.2 1065.0 319.1 1065.2 C316.0 1065.4 311.7 1064.8 307.5 1062.8 C303.2 1060.9 296.8 1057.2 293.5 1053.5 C290.2 1049.8 288.8 1046.3 287.7 1040.7 C286.6 1035.1 287.1 1023.3 287.0 1019.8" fill="none" stroke="#000" stroke-width="5.27" />
<path d="M326.1 959.2 C323.8 961.1 315.8 965.8 312.1 970.8 C308.4 975.9 305.5 982.9 304.0 989.5 C302.4 996.1 303.0 1001.5 302.8 1010.4 C302.6 1019.4 302.0 1035.3 302.8 1043.0 C303.6 1050.8 304.7 1053.9 307.5 1057.0 C310.2 1060.1 317.2 1060.9 319.1 1061.7" fill="none" stroke="#000" stroke-width="2.52" />
<path d="M333.1 973.2 C331.1 973.9 324.7 975.1 321.4 977.8 C318.1 980.5 315.0 984.0 313.3 989.5 C311.5 994.9 311.2 1001.9 311.0 1010.4 C310.8 1019.0 311.2 1033.5 312.1 1040.7 C313.1 1047.9 314.5 1050.4 316.8 1053.5 C319.1 1056.6 324.5 1058.4 326.1 1059.4" fill="none" stroke="#000" stroke-width="2.52" />
<path d="M333.1 973.2 L342.4 974.3" fill="none" stroke="#000" stroke-width="2.8" />
<path d="M342.4 974.3 L377.3 1001.1" fill="none" stroke="#000" stroke-width="2.8" />
<path d="M314.5 953.4 L326.1 960.4 L335.4 958.7" fill="none" stroke="#000" stroke-width="2.1" />
<path d="M326.1 960.4 L326.1 973.2" fill="none" stroke="#000" stroke-width="2.1" />
<path d="M335.4 958.7 L335.4 972.0" fill="none" stroke="#000" stroke-width="2.1" />
<path d="M349.4 1029.1 C349.8 1024.0 349.8 1017.0 351.7 1012.8 C353.7 1008.5 357.5 1005.2 361.0 1003.5 C364.5 1001.7 369.4 1001.1 372.7 1002.3 C376.0 1003.5 379.3 1005.6 380.8 1010.4 C382.4 1015.3 382.4 1024.0 382.0 1031.4 C381.6 1038.8 380.4 1048.9 378.5 1054.7 C376.6 1060.5 373.7 1064.2 370.4 1066.3 C367.1 1068.5 361.8 1068.7 358.7 1067.5 C355.6 1066.3 353.3 1063.4 351.7 1059.4 C350.2 1055.3 349.8 1048.1 349.4 1043.0 C349.0 1038.0 349.0 1034.1 349.4 1029.1Z" fill="none" stroke="#000" stroke-width="2.8" />
<path d="M359.9 1022.1 C360.3 1017.2 360.8 1017.4 362.2 1016.3 C363.6 1015.1 366.7 1014.1 368.0 1015.1 C369.4 1016.1 370.0 1016.7 370.4 1022.1 C370.7 1027.5 370.9 1042.1 370.4 1047.7 C369.8 1053.3 368.2 1054.7 366.9 1055.9 C365.5 1057.0 363.4 1056.4 362.2 1054.7 C361.0 1052.9 360.3 1050.8 359.9 1045.4 C359.5 1039.9 359.5 1026.9 359.9 1022.1Z" fill="none" stroke="#000" stroke-width="3.38" />
<path d="M320.3 1002.3 L349.4 1018.6" fill="none" stroke="#000" stroke-width="2.24" />
<path d="M319.1 1012.8 L349.4 1020.9" fill="none" stroke="#000" stroke-width="2.24" />
<path d="M320.3 1020.9 L349.4 1034.9" fill="none" stroke="#000" stroke-width="2.24" />
<path d="M319.1 1031.4 L349.4 1036.1" fill="none" stroke="#000" stroke-width="2.24" />
<path d="M320.3 1038.4 L349.4 1051.2" fill="none" stroke="#000" stroke-width="2.24" />
<path d="M319.1 1046.5 L349.4 1053.5" fill="none" stroke="#000" stroke-width="2.24" />
<path d="M326.1 1059.4 L351.7 1064.0" fill="none" stroke="#000" stroke-width="2.8" />
<path d="M1210.0 1020.3 C1210.4 1018.9 1210.4 1014.3 1212.5 1012.0 C1214.5 1009.7 1219.0 1007.6 1222.5 1006.5 C1226.0 1005.3 1229.9 1005.0 1233.6 1005.0 C1237.3 1005.0 1241.3 1005.3 1244.7 1006.5 C1248.0 1007.6 1251.8 1009.7 1253.7 1012.0 C1255.7 1014.3 1255.9 1018.9 1256.4 1020.3" fill="none" stroke="#000" stroke-width="4.65" />
<path d="M1210.0 1020.3 C1210.0 1023.0 1209.3 1032.4 1210.0 1036.1 C1210.8 1039.8 1212.9 1041.0 1214.5 1042.5 C1216.0 1044.1 1218.7 1044.9 1219.5 1045.3" fill="none" stroke="#000" stroke-width="4.65" />
<path d="M1256.4 1020.3 C1256.4 1023.0 1257.0 1032.5 1256.4 1036.1 C1255.7 1039.6 1254.7 1040.2 1252.7 1041.6 C1250.8 1043.1 1246.0 1044.2 1244.7 1044.8" fill="none" stroke="#000" stroke-width="4.65" />
<path d="M1219.5 1045.3 L1244.7 1044.8" fill="none" stroke="#000" stroke-width="2.24" />
<path d="M1214.5 1020.3 C1214.4 1018.2 1215.2 1015.6 1216.9 1013.9 C1218.6 1012.1 1221.8 1010.5 1224.5 1009.6 C1227.3 1008.7 1230.6 1008.5 1233.6 1008.5 C1236.6 1008.5 1239.9 1008.7 1242.7 1009.6 C1245.4 1010.5 1248.7 1012.1 1250.3 1013.9 C1251.9 1015.6 1252.6 1018.2 1252.3 1020.3 C1252.1 1022.5 1250.6 1025.1 1248.7 1026.8 C1246.8 1028.5 1243.2 1029.8 1240.6 1030.5 C1238.1 1031.2 1236.3 1031.1 1233.6 1031.1 C1230.9 1031.1 1227.2 1031.2 1224.5 1030.5 C1221.9 1029.8 1219.2 1028.5 1217.5 1026.8 C1215.8 1025.1 1214.6 1022.5 1214.5 1020.3Z" fill="none" stroke="#000" stroke-width="2.1" />
<path d="M1220.5 1031.1 L1220.5 1044.0" fill="none" stroke="#000" stroke-width="1.8" />
<path d="M1246.7 1030.5 L1246.7 1043.5" fill="none" stroke="#000" stroke-width="1.8" />
<path d="M1212.5 1037.9 L1220.5 1044.0" fill="none" stroke="#000" stroke-width="1.8" />
<path d="M1254.3 1037.0 L1246.7 1043.5" fill="none" stroke="#000" stroke-width="1.8" />
<path d="M1218.9 1045.3 L1218.9 1101.8" fill="none" stroke="#000" stroke-width="4.65" />
<path d="M1244.7 1044.8 L1244.7 1101.8" fill="none" stroke="#000" stroke-width="4.65" />
<path d="M1218.9 1101.8 C1219.5 1102.6 1220.2 1105.4 1222.5 1106.4 C1224.8 1107.4 1229.4 1107.8 1232.6 1107.7 C1235.8 1107.6 1239.6 1106.8 1241.7 1105.9 C1243.7 1104.9 1244.2 1102.5 1244.7 1101.8" fill="none" stroke="#000" stroke-width="4.65" />
<path d="M1224.5 1058.5 C1226.0 1058.5 1230.5 1059.1 1233.6 1058.8 C1236.7 1058.6 1241.5 1057.3 1243.1 1057.0" fill="none" stroke="#000" stroke-width="2.24" />
<path d="M1224.5 1066.8 C1226.0 1066.9 1230.5 1067.4 1233.6 1067.2 C1236.7 1066.9 1241.5 1065.6 1243.1 1065.3" fill="none" stroke="#000" stroke-width="2.24" />
<path d="M1224.5 1075.1 C1226.0 1075.2 1230.5 1075.7 1233.6 1075.5 C1236.7 1075.2 1241.5 1074.0 1243.1 1073.6" fill="none" stroke="#000" stroke-width="2.24" />
<path d="M1224.5 1083.5 C1226.0 1083.5 1230.5 1084.1 1233.6 1083.8 C1236.7 1083.6 1241.5 1082.3 1243.1 1082.0" fill="none" stroke="#000" stroke-width="2.24" />
<path d="M1224.5 1093.6 C1226.0 1093.7 1230.5 1094.3 1233.6 1094.0 C1236.7 1093.8 1241.5 1092.5 1243.1 1092.2" fill="none" stroke="#000" stroke-width="2.24" />
<text x="1078.7" y="956.9" font-size="50">3</text>
<path d="M1113.0 956.2 L1170.0 956.2" fill="none" stroke="#000" stroke-width="3.12" />
<path d="M1169.0 956.0 L1316.0 810.0" fill="none" stroke="#000" stroke-width="3.12" />
<text x="1080.4" y="1070.5" font-size="50">6</text>
<path d="M1108.3 1072.2 L1220.1 1072.2" fill="none" stroke="#000" stroke-width="3.12" />
<path d="M1208.5 971.5 L1250.4 997.6 L1323.8 961.1" fill="none" stroke="#000" stroke-width="1.8" />
<path d="M1323.8 961.1 L1278.3 1009.3 L1279.5 1061.7" fill="none" stroke="#000" stroke-width="4.65" />
<text x="257.7" y="753.6" font-size="50">1</text>
<path d="M290.0 754.4 L369.9 754.4 L421.6 837.6" fill="none" stroke="#000" stroke-width="3.12" />
<text x="668.0" y="1172.0" font-size="50">11</text>
<path d="M727.0 1171.0 L846.7 1171.0 L900.7 1081.5" fill="none" stroke="#000" stroke-width="3.12" />
<path d="M29.6 370.9 C30.2 368.6 31.3 360.5 33.0 357.2 C34.8 353.8 37.6 351.9 39.9 351.0 C42.2 350.0 45.7 351.3 46.8 351.4" fill="none" stroke="#000" stroke-width="2.24" />
<path d="M46.8 351.4 L63.3 366.8 L96.3 388.8 L137.6 415.0" fill="none" stroke="#000" stroke-width="2.24" />
<path d="M137.6 415.0 C138.1 416.1 140.4 418.6 140.4 421.9 C140.4 425.1 139.0 429.0 137.6 434.2 C136.3 439.5 133.1 450.3 132.1 453.5" fill="none" stroke="#000" stroke-width="2.24" />
<path d="M132.1 453.5 L139.0 455.6" fill="none" stroke="#000" stroke-width="2.24" />
<path d="M29.6 370.9 L27.5 374.4 L61.9 402.6 L96.3 426.0 L129.4 441.1" fill="none" stroke="#000" stroke-width="2.24" />
<path d="M34.4 370.2 C35.0 368.3 36.6 361.2 37.9 358.5 C39.1 355.9 40.7 355.0 42.0 354.4 C43.2 353.8 44.8 355.0 45.4 355.1" fill="none" stroke="#000" stroke-width="2.24" />
<path d="M45.4 355.1 L61.9 369.6 L95.0 391.6 L132.1 416.3" fill="none" stroke="#000" stroke-width="2.24" />
<path d="M132.1 416.3 C132.7 417.5 135.5 420.2 135.6 423.2 C135.7 426.2 133.9 431.7 132.8 434.2 C131.8 436.8 130.0 437.7 129.4 438.4" fill="none" stroke="#000" stroke-width="2.24" />
<path d="M34.4 370.2 L63.3 397.1 L96.3 419.1 L129.4 438.4" fill="none" stroke="#000" stroke-width="2.24" />
<path d="M45.4 361.3 L40.6 374.4" fill="none" stroke="#000" stroke-width="4.96" />
<path d="M53.0 366.8 L48.2 379.2" fill="none" stroke="#000" stroke-width="4.96" />
<path d="M60.6 373.0 L55.1 384.7" fill="none" stroke="#000" stroke-width="4.96" />
<path d="M41.3 359.2 L36.9 371.6" fill="none" stroke="#000" stroke-width="2.1" />
<path d="M49.6 364.0 L44.7 376.4" fill="none" stroke="#000" stroke-width="2.1" />
<path d="M57.1 370.2 L52.0 381.9" fill="none" stroke="#000" stroke-width="2.1" />
<ellipse cx="67.4" cy="390.2" rx="6.2" ry="10.7" fill="none" stroke="#000" stroke-width="2.24" transform="rotate(-12 67.4 390.2)"/>
<ellipse cx="68.8" cy="390.9" rx="7.6" ry="12.4" fill="none" stroke="#000" stroke-width="2.24" transform="rotate(-12 68.8 390.9)"/>
<path d="M88.1 394.3 L82.6 405.3 L90.8 409.5 L93.6 397.1Z" fill="#000" stroke="#000" stroke-width="2.1" />
<path d="M100.5 401.2 L95.0 415.0 L108.7 423.2 L114.2 410.8" fill="none" stroke="#000" stroke-width="2.1" />
<path d="M96.3 413.6 L108.7 422.5 L110.1 416.3Z" fill="#000" stroke="#000" stroke-width="1.5" />
<path d="M118.4 410.8 L112.9 424.6 L132.1 434.2 L135.6 423.2" fill="none" stroke="#000" stroke-width="2.1" />
<path d="M114.2 426.0 L131.4 430.1 L130.1 437.0 L112.9 428.7Z" fill="#000" stroke="#000" stroke-width="1.5" />
<path d="M121.1 413.6 L118.4 424.6" fill="none" stroke="#000" stroke-width="4.65" />
<path d="M77.1 401.2 L88.1 408.1" fill="none" stroke="#000" stroke-width="2.1" />
<path d="M23.4 380.6 L57.8 405.3 L96.3 430.1 L128.0 445.3" fill="none" stroke="#000" stroke-width="2.24" />
<path d="M24.1 391.6 C27.0 394.3 31.5 401.0 41.3 408.1 C51.0 415.2 68.8 426.0 82.6 434.2 C96.3 442.5 116.1 455.3 123.9 457.6 C131.7 459.9 128.5 449.6 129.4 448.0" fill="none" stroke="#000" stroke-width="2.24" />
<path d="M118.4 457.0 C119.3 456.7 122.3 457.1 123.9 455.6 C125.5 454.1 127.3 449.3 128.0 448.0" fill="none" stroke="#000" stroke-width="2.24" />
<path d="M47.5 416.3 L42.7 443.9" fill="none" stroke="#000" stroke-width="2.24" />
<path d="M49.6 417.7 L44.7 444.6" fill="none" stroke="#000" stroke-width="1.8" />
<path d="M82.6 442.5 L74.3 476.9" fill="none" stroke="#000" stroke-width="2.24" />
<path d="M84.6 443.9 L77.1 478.3" fill="none" stroke="#000" stroke-width="1.8" />
<path d="M103.2 454.9 L99.1 479.7" fill="none" stroke="#000" stroke-width="2.24" />
<path d="M123.9 464.5 L119.7 481.0" fill="none" stroke="#000" stroke-width="2.24" />
<path d="M26.2 397.1 L31.7 416.3 L39.9 441.1 L57.8 465.9 L74.3 479.7" fill="none" stroke="#000" stroke-width="2.24" />
<path d="M31.7 408.1 L45.4 416.3 L82.6 441.1 L123.9 464.5" fill="none" stroke="#000" stroke-width="2.24" />
<path d="M34.4 421.9 L44.0 428.7" fill="none" stroke="#000" stroke-width="5.27" />
<path d="M33.0 428.7 L42.7 435.6" fill="none" stroke="#000" stroke-width="5.27" />
<path d="M52.3 424.6 L60.6 430.1" fill="none" stroke="#000" stroke-width="5.27" />
<path d="M50.9 432.9 L60.6 438.4" fill="none" stroke="#000" stroke-width="5.27" />
<path d="M49.6 441.1 L57.8 446.6" fill="none" stroke="#000" stroke-width="5.27" />
<path d="M68.8 438.4 L78.5 443.9" fill="none" stroke="#000" stroke-width="5.27" />
<path d="M66.1 446.6 L77.1 452.1" fill="none" stroke="#000" stroke-width="5.27" />
<path d="M64.7 454.9 L74.3 460.4" fill="none" stroke="#000" stroke-width="5.27" />
<path d="M61.9 463.1 L71.6 468.7" fill="none" stroke="#000" stroke-width="5.27" />
<path d="M88.1 450.8 L101.9 457.6" fill="none" stroke="#000" stroke-width="5.27" />
<path d="M85.3 460.4 L99.1 467.3" fill="none" stroke="#000" stroke-width="5.27" />
<path d="M82.6 470.0 L96.3 476.9" fill="none" stroke="#000" stroke-width="5.27" />
<path d="M110.1 463.1 L119.7 468.0" fill="none" stroke="#000" stroke-width="5.27" />
<path d="M107.4 471.4 L117.0 476.2" fill="none" stroke="#000" stroke-width="5.27" />
<path d="M27.5 410.8 L33.0 409.5 L31.7 416.3" fill="none" stroke="#000" stroke-width="1.8" />
<path d="M15.1 370.9 C14.7 370.8 14.0 369.6 12.4 370.2 C10.8 370.9 7.3 372.6 5.5 375.1 C3.7 377.5 1.8 380.8 1.4 384.7 C0.9 388.6 1.6 394.1 2.8 398.5 C3.9 402.8 6.2 408.7 8.3 410.8 C10.3 413.0 13.3 412.4 15.1 411.5 C17.0 410.6 18.6 406.4 19.3 405.3" fill="none" stroke="#000" stroke-width="2.24" />
<path d="M15.1 370.9 C15.5 367.7 16.5 355.2 17.2 351.7 C17.9 348.1 18.9 349.9 19.3 349.6" fill="none" stroke="#000" stroke-width="2.24" />
<path d="M15.1 354.4 C15.0 355.6 14.0 356.9 14.5 361.3 C14.9 365.7 16.6 374.6 17.9 380.6 C19.2 386.5 21.0 391.1 22.0 397.1 C23.1 403.0 23.4 408.5 24.1 416.3 C24.8 424.1 24.9 434.7 26.2 443.9 C27.4 453.1 30.1 465.2 31.7 471.4 C33.3 477.6 35.1 479.4 35.8 481.0" fill="none" stroke="#000" stroke-width="2.24" />
<path d="M22.7 340.6 C22.4 341.8 20.6 343.4 20.6 347.5 C20.6 351.7 21.6 361.1 22.7 365.4 C23.9 369.8 26.7 372.3 27.5 373.7" fill="none" stroke="#000" stroke-width="2.24" />
<path d="M19.3 405.3 C18.4 407.6 14.5 415.0 13.8 419.1 C13.1 423.2 14.0 423.7 15.1 430.1 C16.3 436.5 18.6 449.6 20.6 457.6 C22.7 465.7 26.4 474.8 27.5 478.3" fill="none" stroke="#000" stroke-width="2.24" />
<path d="M1.4 397.1 C2.1 400.3 3.9 409.7 5.5 416.3 C7.1 423.0 8.9 430.1 11.0 437.0 C13.1 443.9 16.1 451.9 17.9 457.6 C19.7 463.4 21.3 469.1 22.0 471.4" fill="none" stroke="#000" stroke-width="2.24" />
<path d="M35.8 320.0 L23.4 339.3 L20.6 347.5" fill="none" stroke="#000" stroke-width="2.24" />
<path d="M38.5 324.1 L35.8 351.7" fill="none" stroke="#000" stroke-width="2.24" />
<path d="M27.5 342.0 L29.6 346.2 L24.1 359.9" fill="none" stroke="#000" stroke-width="1.8" />
<path d="M72.9 320.0 C70.0 321.6 61.0 325.3 55.1 329.6 C49.1 334.0 40.1 343.4 37.2 346.2" fill="none" stroke="#000" stroke-width="2.24" />
<path d="M28.9 437.0 C29.8 438.8 32.1 444.8 34.4 448.0 C36.7 451.2 41.3 454.9 42.7 456.3" fill="none" stroke="#000" stroke-width="2.24" />
<path d="M151.4 410.2 C160.6 407.5 188.4 399.0 206.5 394.3 C224.6 389.6 251.1 384.0 260.0 381.9" fill="none" stroke="#000" stroke-width="2.24" />
<path d="M161.7 415.0 C169.2 412.7 191.0 405.8 206.5 401.2 C221.9 396.6 246.6 389.7 254.6 387.4" fill="none" stroke="#000" stroke-width="2.24" />
<path d="M139.0 455.6 C140.2 453.6 142.7 447.9 145.9 443.9 C149.1 439.9 154.6 434.7 158.3 431.5 C162.0 428.3 166.3 425.8 167.9 424.6" fill="none" stroke="#000" stroke-width="2.24" />
<path d="M167.9 424.6 L178.9 424.6 L220.2 434.9" fill="none" stroke="#000" stroke-width="2.24" />
<path d="M220.2 434.9 C220.9 435.7 223.9 436.9 224.4 439.7 C224.8 442.6 224.1 446.9 223.0 452.1 C221.8 457.4 218.6 466.6 217.5 471.4 C216.3 476.2 216.3 479.4 216.1 481.0" fill="none" stroke="#000" stroke-width="2.24" />
<path d="M220.2 434.9 L260.0 417.7" fill="none" stroke="#000" stroke-width="2.24" />
<path d="M217.5 471.4 L260.0 459.0" fill="none" stroke="#000" stroke-width="2.24" />
<path d="M139.0 455.6 C145.7 457.5 165.9 464.4 178.9 467.3 C192.0 470.1 211.0 471.9 217.5 472.8" fill="none" stroke="#000" stroke-width="2.24" />
<path d="M139.0 455.6 C138.3 457.3 135.8 461.7 134.9 465.9 C134.0 470.1 133.7 478.5 133.5 481.0" fill="none" stroke="#000" stroke-width="2.24" />
<path d="M154.2 456.3 L169.3 434.9" fill="none" stroke="#000" stroke-width="2.24" />
<path d="M153.5 448.0 L184.4 455.6" fill="none" stroke="#000" stroke-width="2.24" />
<path d="M177.6 460.4 L185.8 449.4" fill="none" stroke="#000" stroke-width="2.24" />
<path d="M176.2 441.1 L183.1 432.9" fill="none" stroke="#000" stroke-width="2.24" />
<path d="M176.2 441.1 L206.5 448.0" fill="none" stroke="#000" stroke-width="2.24" />
<path d="M195.4 463.1 L207.1 439.7" fill="none" stroke="#000" stroke-width="2.24" />
<path d="M196.8 465.9 L210.6 469.3" fill="none" stroke="#000" stroke-width="2.24" />
<path d="M332.2 109.4 C335.1 107.9 341.2 104.1 349.4 100.1 C357.6 96.2 369.7 90.2 381.2 85.6 C392.6 81.0 403.2 76.8 418.2 72.4 C433.2 67.9 449.1 63.5 471.2 59.1 C493.2 54.7 520.6 50.7 550.6 45.9 C580.6 41.0 634.4 32.6 651.1 30.0" fill="none" stroke="#000" stroke-width="2.24" />
<path d="M332.2 109.4 L324.3 117.3 L285.9 154.4 L246.2 194.1 L199.9 245.7" fill="none" stroke="#000" stroke-width="3.08" />
<path d="M328.2 118.7 L202.5 243.9" fill="none" stroke="#000" stroke-width="1.8" />
<path d="M338.8 131.9 L291.2 178.2 L214.4 239.1" fill="none" stroke="#000" stroke-width="2.24" />
<path d="M328.2 114.7 L391.8 146.5 L444.7 174.3 L502.9 200.7" fill="none" stroke="#000" stroke-width="2.24" />
<path d="M324.3 121.3 L338.8 131.9 L391.8 159.7 L444.7 187.5 L497.6 207.3" fill="none" stroke="#000" stroke-width="2.24" />
<path d="M502.9 200.7 C501.2 203.2 497.6 207.1 492.3 215.3 C487.0 223.4 479.1 236.9 471.2 249.7 C463.2 262.5 453.5 277.0 444.7 292.0 C435.9 307.1 422.6 332.0 418.2 340.0" fill="none" stroke="#000" stroke-width="2.24" />
<path d="M497.6 207.3 C493.2 214.0 481.7 230.3 471.2 247.0 C460.6 263.8 443.8 292.4 434.1 307.9 C424.4 323.4 416.5 334.6 412.9 340.0" fill="none" stroke="#000" stroke-width="3.08" />
<path d="M506.9 204.7 C501.8 212.2 489.2 230.1 476.5 249.7 C463.7 269.3 437.9 310.4 430.1 322.5" fill="none" stroke="#000" stroke-width="2.24" />
<path d="M502.9 200.7 C506.5 198.7 511.7 194.3 524.1 188.8 C536.4 183.3 559.4 173.6 577.0 167.6 C594.7 161.7 612.8 157.1 630.0 153.1 C647.1 149.0 671.7 144.9 680.0 143.3" fill="none" stroke="#000" stroke-width="2.24" />
<path d="M510.9 203.4 C514.0 201.5 517.5 197.2 529.4 192.0 C541.3 186.8 561.2 178.8 582.3 172.4 C603.5 166.1 642.8 156.5 656.4 153.9 C670.1 151.2 663.1 156.1 664.4 156.5" fill="none" stroke="#000" stroke-width="2.24" />
<path d="M659.1 154.4 C660.4 155.7 664.8 156.6 667.0 162.3 C669.2 168.1 671.4 182.5 672.3 188.8 C673.3 195.1 672.8 198.1 672.9 199.9" fill="none" stroke="#000" stroke-width="2.24" />
<path d="M444.7 300.0 C449.1 294.7 462.3 278.4 471.2 268.2 C480.0 258.1 488.8 247.5 497.6 239.1 C506.5 230.7 510.9 225.0 524.1 217.9 C537.3 210.9 556.7 202.9 577.0 196.8 C597.3 190.6 632.6 183.1 645.9 180.9 C659.1 178.7 654.0 180.0 656.4 183.5 C658.9 187.0 659.1 192.3 660.4 202.0 C661.7 211.8 663.7 226.3 664.4 241.8 C665.0 257.2 665.7 282.3 664.4 294.7 C663.1 307.0 662.2 310.6 656.4 315.9 C650.7 321.2 643.2 322.4 630.0 326.5 C616.7 330.5 585.9 337.7 577.0 340.0" fill="none" stroke="#000" stroke-width="2.24" />
<path d="M479.1 294.7 C482.2 289.4 490.1 273.5 497.6 262.9 C505.1 252.3 514.4 239.5 524.1 231.2 C533.8 222.8 542.6 217.9 555.9 212.6 C569.1 207.3 589.4 203.4 603.5 199.4 C617.6 195.4 632.8 190.1 640.6 188.8 C648.3 187.5 647.6 187.0 649.8 191.5 C652.0 195.9 652.7 202.5 653.8 215.3 C654.9 228.1 656.4 253.2 656.4 268.2 C656.4 283.2 658.2 296.9 653.8 305.3 C649.4 313.7 641.0 314.1 630.0 318.5 C618.9 322.9 594.7 329.5 587.6 331.7" fill="none" stroke="#000" stroke-width="2.24" />
<path d="M473.8 297.3 C481.3 285.4 506.0 240.4 518.8 225.9 C531.6 211.3 529.8 216.6 550.6 210.0 C571.3 203.4 627.8 190.1 643.2 186.2" fill="none" stroke="#000" stroke-width="1.8" />
<path d="M358.7 157.1 L365.3 153.1 L373.2 159.7 L397.0 174.3 L402.3 180.9 L402.3 196.8 L394.4 198.1 L378.5 188.8" fill="none" stroke="#000" stroke-width="2.24" />
<path d="M358.7 157.1 L358.7 175.6 L370.6 188.8 L373.2 194.1" fill="none" stroke="#000" stroke-width="2.24" />
<ellipse cx="375.9" cy="194.6" rx="2.9" ry="2.9" fill="none" stroke="#000" stroke-width="2.24" transform="rotate(0 375.9 194.6)"/>
<path d="M362.6 159.7 L370.6 183.5" fill="none" stroke="#000" stroke-width="2.24" />
<path d="M366.6 157.1 L375.9 179.6" fill="none" stroke="#000" stroke-width="2.24" />
<path d="M374.5 178.2 L381.2 178.2 L381.2 188.8" fill="none" stroke="#000" stroke-width="2.24" />
<path d="M391.8 178.2 L394.4 196.8" fill="none" stroke="#000" stroke-width="2.24" />
<path d="M378.5 167.6 L399.7 179.6" fill="none" stroke="#000" stroke-width="2.24" />
<path d="M360.0 162.3 L367.9 186.2 L375.9 186.2" fill="none" stroke="#000" stroke-width="3.12" />
<path d="M256.8 215.3 C257.2 213.5 257.2 208.2 259.4 204.7 C261.6 201.2 267.3 196.5 270.0 194.1 C272.6 191.7 274.4 190.8 275.3 190.1" fill="none" stroke="#000" stroke-width="2.24" />
<path d="M275.3 190.1 L285.9 188.8 L287.2 239.1 L283.2 241.8 L271.3 243.1" fill="none" stroke="#000" stroke-width="2.24" />
<path d="M271.3 191.5 L271.3 241.8" fill="none" stroke="#000" stroke-width="2.24" />
<path d="M256.8 215.3 L256.8 239.1 L264.7 241.8" fill="none" stroke="#000" stroke-width="2.24" />
<path d="M259.4 220.6 C260.3 218.8 262.7 212.2 264.7 210.0 C266.7 207.8 270.2 207.8 271.3 207.3" fill="none" stroke="#000" stroke-width="2.24" />
<path d="M262.1 225.9 C262.7 224.1 264.5 217.5 266.0 215.3 C267.6 213.1 270.4 213.1 271.3 212.6" fill="none" stroke="#000" stroke-width="2.24" />
<path d="M264.2 231.2 C264.7 229.6 266.2 223.9 267.3 221.9 C268.5 219.9 270.7 219.7 271.3 219.3" fill="none" stroke="#000" stroke-width="2.24" />
<path d="M264.7 233.8 L271.3 233.8 L271.3 241.8 L264.7 241.8Z" fill="none" stroke="#000" stroke-width="2.24" />
<path d="M214.4 239.1 C216.6 238.6 222.4 236.1 227.6 235.9 C232.9 235.7 240.9 236.4 246.2 237.8 C251.5 239.2 257.2 243.3 259.4 244.4" fill="none" stroke="#000" stroke-width="2.24" />
<path d="M285.9 248.4 C294.7 246.4 317.6 241.5 338.8 236.5 C360.0 231.4 400.6 221.0 412.9 217.9" fill="none" stroke="#000" stroke-width="2.24" />
<path d="M293.8 253.7 L333.5 243.1" fill="none" stroke="#000" stroke-width="2.24" />
<path d="M354.7 239.1 L399.7 227.2" fill="none" stroke="#000" stroke-width="2.24" />
<path d="M248.8 255.0 C249.7 254.3 249.3 251.9 254.1 251.0 C259.0 250.1 271.8 249.0 277.9 249.7 C284.1 250.4 288.5 251.9 291.2 255.0 C293.8 258.1 293.4 266.0 293.8 268.2" fill="none" stroke="#000" stroke-width="2.24" />
<path d="M248.8 255.0 L283.2 278.8" fill="none" stroke="#000" stroke-width="2.24" />
<path d="M252.8 256.3 L289.8 259.0" fill="none" stroke="#000" stroke-width="2.24" />
<path d="M291.2 265.6 L301.8 269.5 L304.4 273.5" fill="none" stroke="#000" stroke-width="2.24" />
<path d="M289.8 268.2 L289.8 276.2" fill="none" stroke="#000" stroke-width="2.24" />
<path d="M279.3 284.1 C279.9 282.1 279.5 281.2 285.9 278.8 C292.3 276.4 310.6 270.6 317.6 269.5 C324.7 268.4 322.3 269.3 328.2 272.2 C334.2 275.1 349.0 283.4 353.4 286.7 C357.8 290.1 358.4 289.4 354.7 292.0 C350.9 294.7 337.9 300.6 330.9 302.6 C323.8 304.6 318.1 304.4 312.3 304.0 C306.6 303.5 301.5 302.2 296.5 300.0 C291.4 297.8 284.8 293.4 281.9 290.7 C279.0 288.1 278.6 286.1 279.3 284.1Z" fill="none" stroke="#000" stroke-width="2.24" />
<path d="M283.8 286.2 C289.4 284.4 306.7 274.8 317.6 275.1 C328.6 275.5 347.4 284.4 349.4 288.3 C351.4 292.3 337.9 297.4 329.6 298.7 C321.2 299.9 304.2 296.5 299.1 296.0" fill="none" stroke="#000" stroke-width="1.8" />
<path d="M334.8 310.6 C335.9 309.2 335.5 306.6 341.5 302.6 C347.4 298.7 362.6 289.8 370.6 286.7 C378.5 283.7 383.8 283.7 389.1 284.1 C394.4 284.5 396.6 285.4 402.3 289.4 C408.1 293.4 420.0 304.8 423.5 307.9" fill="none" stroke="#000" stroke-width="2.24" />
<path d="M334.8 310.6 C335.3 311.7 336.4 318.1 337.5 317.2 C338.6 316.3 340.8 307.3 341.5 305.3" fill="none" stroke="#000" stroke-width="2.24" />
<path d="M349.4 277.5 L382.5 262.9" fill="none" stroke="#000" stroke-width="2.24" />
<path d="M383.8 284.1 C384.7 280.1 386.5 267.8 389.1 260.3 C391.8 252.8 394.8 246.6 399.7 239.1 C404.5 231.6 412.5 224.8 418.2 215.3 C424.0 205.8 431.5 187.7 434.1 182.2" fill="none" stroke="#000" stroke-width="2.24" />
<path d="M423.5 262.9 C425.3 257.6 431.0 238.7 434.1 231.2 C437.2 223.7 439.8 225.0 442.0 217.9 C444.2 210.9 446.5 193.7 447.3 188.8" fill="none" stroke="#000" stroke-width="2.24" />
<path d="M442.0 217.9 L473.8 236.5" fill="none" stroke="#000" stroke-width="2.8" />
<path d="M444.7 214.8 L476.5 232.5" fill="none" stroke="#000" stroke-width="1.8" />
<path d="M403.7 289.4 C403.9 287.6 403.0 281.7 405.0 278.8 C407.0 275.9 410.7 273.1 415.6 272.2 C420.4 271.3 428.8 272.0 434.1 273.5 C439.4 275.1 445.1 280.1 447.3 281.5" fill="none" stroke="#000" stroke-width="2.24" />
<path d="M409.0 290.7 C409.6 289.4 409.6 284.3 412.9 282.8 C416.2 281.2 424.4 280.8 428.8 281.5 C433.2 282.1 437.6 285.9 439.4 286.7" fill="none" stroke="#000" stroke-width="2.24" />
<path d="M409.0 290.7 C411.4 292.9 419.8 302.0 423.5 304.0 C427.3 305.9 430.1 302.9 431.5 302.6" fill="none" stroke="#000" stroke-width="2.24" />
<path d="M416.9 282.8 L414.3 294.7" fill="none" stroke="#000" stroke-width="2.24" />
<path d="M199.9 245.7 C200.5 247.3 199.6 250.4 203.8 255.0 C208.0 259.6 211.3 264.3 225.0 273.5 C238.7 282.8 266.9 299.5 285.9 310.6 C304.8 321.6 330.0 335.1 338.8 340.0" fill="none" stroke="#000" stroke-width="2.8" />
<path d="M209.1 249.7 C221.9 258.5 262.1 287.6 285.9 302.6 C309.7 317.7 341.0 333.7 352.0 340.0" fill="none" stroke="#000" stroke-width="2.24" />
<path d="M214.4 257.6 L344.1 337.0" fill="none" stroke="#000" stroke-width="2.1" stroke-dasharray="8 5"/>
<path d="M210.4 247.0 C210.9 245.7 215.3 244.2 217.1 244.4 C218.8 244.6 221.5 247.0 221.0 248.4 C220.6 249.7 216.2 252.6 214.4 252.3 C212.6 252.1 210.0 248.4 210.4 247.0Z" fill="none" stroke="#000" stroke-width="2.24" />
<path d="M180.0 257.6 L199.9 245.7" fill="none" stroke="#000" stroke-width="2.24" />
<path d="M346.8 322.5 C350.7 324.5 364.0 331.5 370.6 334.4 C377.2 337.3 383.8 339.0 386.5 340.0" fill="none" stroke="#000" stroke-width="2.24" />
<path d="M481.7 340.0 C482.2 335.9 482.6 321.4 484.4 315.9 C486.2 310.3 488.8 307.9 492.3 306.6 C495.9 305.3 501.6 305.9 505.6 307.9 C509.5 309.9 513.7 313.2 516.2 318.5 C518.6 323.9 519.5 336.4 520.1 340.0" fill="none" stroke="#000" stroke-width="2.24" />
<path d="M501.6 340.0 C502.0 336.4 502.7 323.4 504.2 318.5 C505.8 313.6 509.8 311.9 510.9 310.6" fill="none" stroke="#000" stroke-width="2.24" />
<ellipse cx="465.9" cy="330.4" rx="10.1" ry="5.8" fill="none" stroke="#000" stroke-width="2.24" transform="rotate(0 465.9 330.4)"/>
<path d="M199.8 246.2 C195.2 247.9 184.2 251.9 172.0 256.8 C159.9 261.6 142.5 268.7 127.1 275.3 C111.6 281.9 92.2 290.3 79.4 296.5 C66.6 302.6 57.6 308.4 50.3 312.3 C43.0 316.3 38.2 318.7 35.7 320.0" fill="none" stroke="#000" stroke-width="2.24" />
<path d="M185.3 252.8 C180.9 254.8 171.2 258.3 158.8 264.7 C146.5 271.1 125.5 281.9 111.2 291.2 C96.8 300.4 79.2 315.2 72.8 320.0" fill="none" stroke="#000" stroke-width="2.24" />
<path d="M336.2 338.8 C341.9 341.5 363.1 351.7 370.6 355.2 C378.1 358.8 377.2 359.7 381.2 360.0 C385.1 360.3 391.5 358.6 394.4 356.8 C397.3 355.0 397.7 350.6 398.4 349.4" fill="none" stroke="#000" stroke-width="2.8" />
<path d="M352.0 339.9 L391.7 353.4" fill="none" stroke="#000" stroke-width="2.24" />
<path d="M412.9 339.9 L394.4 352.0" fill="none" stroke="#000" stroke-width="3.08" />
<path d="M418.2 339.9 L397.0 362.6" fill="none" stroke="#000" stroke-width="2.24" />
<path d="M434.1 312.3 C433.2 314.3 427.9 319.4 428.8 324.3 C429.7 329.1 436.7 332.4 439.4 341.5 C442.0 350.5 443.4 361.3 444.7 378.5 C446.0 395.7 446.9 426.1 447.3 444.7 C447.8 463.3 447.3 482.4 447.3 490.0" fill="none" stroke="#000" stroke-width="2.24" />
<path d="M381.2 360.0 C366.2 363.1 319.4 372.3 291.2 378.5 C262.9 384.7 235.1 391.8 211.8 397.0 C188.4 402.3 161.0 408.1 150.9 410.3" fill="none" stroke="#000" stroke-width="2.24" />
<path d="M370.6 364.0 L299.1 377.2" fill="none" stroke="#000" stroke-width="2.24" />
<path d="M254.1 389.1 L161.5 415.0" fill="none" stroke="#000" stroke-width="2.24" />
<path d="M259.9 417.7 C274.0 412.9 321.2 397.8 344.1 389.1 C366.9 380.4 387.3 369.7 397.0 365.3 C406.7 360.9 401.4 363.1 402.3 362.6" fill="none" stroke="#000" stroke-width="2.24" />
<path d="M259.9 459.0 C269.5 457.5 286.8 455.5 317.6 450.0 C348.4 444.5 423.5 430.1 444.7 426.2" fill="none" stroke="#000" stroke-width="2.24" />
<path d="M264.7 455.8 L340.1 451.3" fill="none" stroke="#000" stroke-width="2.24" />
<path d="M357.3 447.3 L434.1 430.1" fill="none" stroke="#000" stroke-width="2.24" />
<path d="M460.6 452.6 L500.0 446.0" fill="none" stroke="#000" stroke-width="2.24" />
<path d="M460.6 465.9 L500.0 457.9" fill="none" stroke="#000" stroke-width="2.24" />
<path d="M651.0 29.9 L732.0 21.4 L746.4 22.2" fill="none" stroke="#000" stroke-width="2.24" />
<path d="M732.0 21.4 C750.0 28.4 813.0 51.7 840.0 63.2 C867.0 74.7 879.6 83.3 894.0 90.2 C908.4 97.1 918.6 101.9 926.4 104.6 C934.2 107.3 938.4 106.1 940.8 106.4" fill="none" stroke="#000" stroke-width="2.24" />
<path d="M746.4 22.2 C762.0 27.8 812.4 44.7 840.0 56.0 C867.6 67.3 895.2 82.1 912.0 90.2 C928.8 98.3 934.8 100.1 940.8 104.6 C946.8 109.1 946.5 113.3 948.0 117.2 C949.5 121.1 949.5 126.2 949.8 128.0" fill="none" stroke="#000" stroke-width="2.24" />
<path d="M660.0 148.7 C684.0 144.5 759.6 130.8 804.0 123.5 C848.4 116.1 906.0 107.7 926.4 104.6" fill="none" stroke="#000" stroke-width="2.24" />
<path d="M660.0 153.2 C684.0 149.0 759.9 135.4 804.0 128.0 C848.1 120.6 904.5 111.8 924.6 108.6" fill="none" stroke="#000" stroke-width="2.24" />
<path d="M949.8 128.0 C950.1 129.5 950.1 133.1 951.6 137.0 C953.1 140.9 957.3 145.4 958.8 151.4 C960.3 157.4 960.3 159.7 960.6 173.0 C960.9 186.3 960.6 221.3 960.6 230.9" fill="none" stroke="#000" stroke-width="2.24" />
<path d="M928.2 108.2 L940.8 107.8 L946.2 113.6" fill="none" stroke="#000" stroke-width="2.24" />
<path d="M949.8 127.1 C947.4 127.4 955.8 126.0 935.4 128.9 C915.0 131.7 845.7 140.7 827.4 144.2 C809.1 147.6 825.6 143.3 825.6 149.6 C825.6 155.9 826.2 168.4 827.4 182.0 C828.6 195.5 831.9 222.8 832.8 230.9" fill="none" stroke="#000" stroke-width="2.24" />
<path d="M931.8 133.4 C915.3 136.1 849.7 146.1 832.8 149.6 C815.8 153.0 829.9 145.7 830.1 154.1 C830.2 162.5 832.5 187.2 833.7 200.0 C834.9 212.8 836.7 225.8 837.3 230.9" fill="none" stroke="#000" stroke-width="2.24" />
<path d="M935.4 128.9 C936.0 129.9 937.8 126.3 939.0 135.2 C940.2 144.0 941.8 166.0 942.6 182.0 C943.3 197.9 943.3 222.8 943.5 230.9" fill="none" stroke="#000" stroke-width="2.24" />
<path d="M931.8 133.4 C932.4 134.9 934.3 126.1 935.4 142.4 C936.4 158.7 937.6 216.2 938.1 230.9" fill="none" stroke="#000" stroke-width="2.24" />
<path d="M926.4 137.9 C927.0 139.2 929.1 130.5 930.0 146.0 C930.9 161.5 931.5 216.8 931.8 230.9" fill="none" stroke="#000" stroke-width="2.24" />
<path d="M923.7 138.8 L920.1 203.6" fill="none" stroke="#000" stroke-width="2.24" />
<path d="M805.8 128.0 C807.3 130.1 812.7 134.6 814.8 140.6 C816.9 146.6 817.2 148.9 818.4 164.0 C819.6 179.1 821.4 219.8 822.0 230.9" fill="none" stroke="#000" stroke-width="2.24" />
<path d="M804.0 153.2 C804.6 154.7 806.4 154.4 807.6 162.2 C808.8 170.0 810.3 188.5 811.2 200.0 C812.1 211.4 812.7 225.8 813.0 230.9" fill="none" stroke="#000" stroke-width="2.24" />
<path d="M682.5 173.0 C682.8 172.7 665.5 174.9 684.3 171.2 C703.0 167.4 775.0 153.5 795.0 150.5 C814.9 147.5 802.5 152.7 804.0 153.2" fill="none" stroke="#000" stroke-width="2.24" />
<path d="M682.5 173.0 C682.8 177.5 683.5 190.3 684.3 200.0 C685.0 209.6 686.5 225.8 687.0 230.9" fill="none" stroke="#000" stroke-width="2.24" />
<path d="M689.7 180.2 C690.0 179.6 673.6 180.3 691.5 176.6 C709.3 172.8 778.3 160.1 796.8 157.7 C815.2 155.3 801.0 155.1 802.2 162.2 C803.4 169.2 803.4 188.5 804.0 200.0 C804.6 211.4 805.5 225.8 805.8 230.9" fill="none" stroke="#000" stroke-width="2.24" />
<path d="M689.7 180.2 C690.1 185.0 691.8 200.5 692.4 209.0 C693.0 217.4 693.1 227.3 693.3 230.9" fill="none" stroke="#000" stroke-width="2.24" />
<path d="M660.0 153.2 C661.2 155.0 665.1 156.2 667.2 164.0 C669.3 171.8 671.4 188.8 672.6 200.0 C673.8 211.1 674.1 225.8 674.4 230.9" fill="none" stroke="#000" stroke-width="2.24" />
<path d="M660.0 185.6 C660.4 188.0 662.1 192.4 662.7 200.0 C663.3 207.5 663.4 225.8 663.6 230.9" fill="none" stroke="#000" stroke-width="2.24" />
<path d="M742.8 167.6 L748.2 210.8" fill="none" stroke="#000" stroke-width="2.24" />
<path d="M750.0 166.7 L753.6 200.0" fill="none" stroke="#000" stroke-width="2.24" />
<path d="M701.4 174.8 C702.3 177.5 705.6 184.1 706.8 191.0 C708.0 197.9 708.3 212.0 708.6 216.2" fill="none" stroke="#000" stroke-width="2.24" />
<path d="M712.2 173.9 C713.4 176.1 717.4 181.5 719.4 187.4 C721.3 193.2 723.1 205.4 723.9 209.0" fill="none" stroke="#000" stroke-width="2.24" />
<path d="M752.7 200.0 C754.0 198.8 757.6 192.8 760.8 192.8 C763.9 192.8 768.6 195.8 771.6 200.0 C774.6 204.2 777.6 215.0 778.8 218.0" fill="none" stroke="#000" stroke-width="2.24" />
<path d="M760.8 192.8 C763.2 193.1 770.4 191.9 775.2 194.6 C780.0 197.3 786.3 203.6 789.6 209.0 C792.9 214.4 794.1 224.0 795.0 227.0" fill="none" stroke="#000" stroke-width="2.24" />
<path d="M723.0 187.4 L744.6 198.2" fill="none" stroke="#000" stroke-width="2.24" />
<path d="M724.8 207.2 L744.6 215.3" fill="none" stroke="#000" stroke-width="2.24" />
<path d="M693.3 209.0 L714.0 218.0" fill="none" stroke="#000" stroke-width="2.24" />
<path d="M693.3 215.3 L710.4 223.4" fill="none" stroke="#000" stroke-width="2.24" />
<path d="M751.8 169.4 L802.2 192.8" fill="none" stroke="#000" stroke-width="2.24" />
<path d="M752.7 178.4 L802.2 201.8" fill="none" stroke="#000" stroke-width="2.24" />
<path d="M753.6 182.0 L803.1 206.3" fill="none" stroke="#000" stroke-width="2.24" />
<path d="M732.0 169.4 L742.8 174.8" fill="none" stroke="#000" stroke-width="2.24" />
<path d="M779.7 165.8 L802.2 174.8" fill="none" stroke="#000" stroke-width="2.24" />
<path d="M779.7 165.8 L796.8 161.3" fill="none" stroke="#000" stroke-width="2.24" />
<path d="M786.0 166.7 L802.2 173.0" fill="none" stroke="#000" stroke-width="3.08" />
<path d="M712.2 230.9 L715.8 218.0 L732.0 211.7 L753.6 212.6 L789.6 230.9Z" fill="#000" stroke="#000" stroke-width="1.5" />
<path d="M833.7 167.6 C836.2 168.5 833.5 166.4 849.0 173.0 C864.4 179.6 913.5 201.5 926.4 207.2" fill="none" stroke="#000" stroke-width="2.24" />
<path d="M834.6 178.4 C837.3 179.6 845.4 182.0 850.8 185.6 C856.2 189.2 862.8 196.4 867.0 200.0 C871.2 203.6 875.1 205.5 876.0 207.2 C876.9 208.8 875.4 210.5 872.4 209.9 C869.4 209.3 864.0 206.4 858.0 203.6 C852.0 200.7 840.0 194.6 836.4 192.8" fill="none" stroke="#000" stroke-width="2.24" />
<path d="M837.3 181.1 C840.1 182.4 848.8 185.1 854.4 189.2 C859.9 193.2 867.9 202.7 870.6 205.4" fill="none" stroke="#000" stroke-width="3.08" />
<path d="M879.6 194.6 L885.0 192.8 L926.4 209.0" fill="none" stroke="#000" stroke-width="2.24" />
<path d="M879.6 194.6 L894.0 219.8 L926.4 213.5" fill="none" stroke="#000" stroke-width="2.24" />
<path d="M886.8 200.0 L919.2 214.4" fill="none" stroke="#000" stroke-width="3.08" />
<path d="M837.3 209.0 C840.1 209.9 850.9 212.6 854.4 214.4 C857.8 216.2 858.6 217.7 858.0 219.8 C857.4 221.9 854.1 226.4 850.8 227.0 C847.5 227.6 840.3 224.0 838.2 223.4" fill="none" stroke="#000" stroke-width="2.24" />
<path d="M897.6 230.9 L930.0 225.2" fill="none" stroke="#000" stroke-width="2.24" />
<path d="M684.3 200.0 C684.7 209.0 686.5 237.8 687.0 254.0 C687.4 270.2 686.4 289.4 687.0 297.2 C687.6 305.0 690.0 300.2 690.6 300.8" fill="none" stroke="#000" stroke-width="2.24" />
<path d="M690.6 300.8 L786.0 277.4" fill="none" stroke="#000" stroke-width="2.24" />
<path d="M691.5 200.0 C691.8 211.4 693.0 253.1 693.3 268.4 C693.6 283.7 692.8 287.6 693.3 291.8 C693.7 296.0 695.5 293.3 696.0 293.6" fill="none" stroke="#000" stroke-width="2.24" />
<path d="M696.0 293.6 L780.6 273.8" fill="none" stroke="#000" stroke-width="2.24" />
<path d="M748.2 257.6 L749.1 281.9" fill="none" stroke="#000" stroke-width="2.24" />
<path d="M756.3 261.2 L756.8 280.1" fill="none" stroke="#000" stroke-width="2.24" />
<path d="M692.4 210.8 L714.0 219.8" fill="none" stroke="#000" stroke-width="2.24" />
<path d="M693.3 216.2 L711.3 224.3" fill="none" stroke="#000" stroke-width="2.24" />
<path d="M710.4 227.0 C709.5 229.4 707.7 234.2 705.0 241.4 C702.3 248.6 696.0 265.4 694.2 270.2" fill="none" stroke="#000" stroke-width="2.24" />
<path d="M723.0 240.5 C721.2 244.8 714.6 260.7 712.2 266.6 C709.8 272.4 708.6 272.9 708.6 275.6 C708.6 278.3 709.2 281.0 712.2 282.8 C715.2 284.6 719.7 286.8 726.6 286.4 C733.5 285.9 746.1 281.7 753.6 280.1 C761.1 278.4 768.6 277.1 771.6 276.5" fill="none" stroke="#000" stroke-width="2.24" />
<path d="M708.6 200.0 L709.5 214.4" fill="none" stroke="#000" stroke-width="2.24" />
<path d="M723.0 200.0 L724.8 210.8" fill="none" stroke="#000" stroke-width="2.24" />
<path d="M724.8 207.2 L739.2 211.7" fill="none" stroke="#000" stroke-width="2.24" />
<path d="M746.4 200.0 L748.2 210.8" fill="none" stroke="#000" stroke-width="2.24" />
<path d="M753.6 200.0 L754.5 211.7" fill="none" stroke="#000" stroke-width="2.24" />
<path d="M771.6 200.0 C772.8 201.8 777.3 206.9 778.8 210.8 C780.3 214.7 780.3 221.3 780.6 223.4" fill="none" stroke="#000" stroke-width="2.24" />
<path d="M786.0 200.0 C787.2 202.4 791.4 209.0 793.2 214.4 C795.0 219.8 796.2 229.4 796.8 232.4" fill="none" stroke="#000" stroke-width="2.24" />
<path d="M796.8 227.0 L804.0 229.7" fill="none" stroke="#000" stroke-width="2.24" />
<path d="M804.0 200.0 C804.6 203.0 806.7 211.1 807.6 218.0 C808.5 224.9 809.1 237.5 809.4 241.4" fill="none" stroke="#000" stroke-width="2.24" />
<path d="M807.6 200.0 L811.2 242.3" fill="none" stroke="#000" stroke-width="2.24" />
<path d="M819.3 200.0 L821.1 245.0" fill="none" stroke="#000" stroke-width="2.24" />
<path d="M822.0 200.0 L822.9 248.6" fill="none" stroke="#000" stroke-width="2.24" />
<path d="M820.2 300.8 C819.9 308.0 818.5 332.1 818.4 344.0 C818.2 355.8 819.1 367.2 819.3 371.9" fill="none" stroke="#000" stroke-width="2.24" />
<path d="M822.0 306.2 L821.1 344.0" fill="none" stroke="#000" stroke-width="2.24" />
<path d="M830.1 200.0 C830.5 203.0 831.6 209.0 832.8 218.0 C834.0 227.0 836.1 246.8 837.3 254.0 C838.5 261.2 839.5 260.0 840.0 261.2" fill="none" stroke="#000" stroke-width="2.24" />
<path d="M835.5 200.0 C835.9 206.0 837.4 227.3 838.2 236.0 C838.9 244.7 839.7 249.5 840.0 252.2" fill="none" stroke="#000" stroke-width="2.24" />
<path d="M840.0 243.2 L927.8 227.0" fill="none" stroke="#000" stroke-width="1.95" />
<path d="M840.0 245.9 L927.8 229.3" fill="none" stroke="#000" stroke-width="1.95" />
<path d="M840.0 248.6 L927.8 231.7" fill="none" stroke="#000" stroke-width="1.95" />
<path d="M840.0 251.3 L927.8 234.0" fill="none" stroke="#000" stroke-width="1.95" />
<path d="M840.0 254.0 L927.8 236.4" fill="none" stroke="#000" stroke-width="1.95" />
<path d="M840.0 256.7 L927.8 238.7" fill="none" stroke="#000" stroke-width="1.95" />
<path d="M840.0 259.4 L927.8 241.0" fill="none" stroke="#000" stroke-width="1.95" />
<path d="M840.0 261.2 L939.9 240.5" fill="none" stroke="#000" stroke-width="2.24" />
<path d="M928.2 227.0 L929.1 240.5" fill="none" stroke="#000" stroke-width="2.24" />
<path d="M929.1 238.2 L940.8 238.7 L939.0 246.8" fill="none" stroke="#000" stroke-width="2.24" />
<path d="M849.0 262.1 L939.9 246.4" fill="none" stroke="#000" stroke-width="2.24" />
<path d="M856.2 267.5 L940.8 254.0" fill="none" stroke="#000" stroke-width="2.24" />
<path d="M867.0 272.9 L940.8 263.0" fill="none" stroke="#000" stroke-width="2.24" />
<path d="M837.3 210.8 C840.1 211.7 850.9 214.1 854.4 216.2 C857.8 218.3 858.6 221.3 858.0 223.4 C857.4 225.5 854.1 227.1 850.8 228.8 C847.5 230.4 840.3 232.5 838.2 233.3" fill="none" stroke="#000" stroke-width="2.24" />
<path d="M838.2 221.6 L849.0 225.2" fill="none" stroke="#000" stroke-width="2.24" />
<path d="M885.0 205.4 L894.0 219.8 L928.2 213.5" fill="none" stroke="#000" stroke-width="2.24" />
<path d="M888.6 205.4 L926.4 218.0" fill="none" stroke="#000" stroke-width="3.08" />
<path d="M865.2 200.0 L874.2 209.0 L876.0 203.6" fill="none" stroke="#000" stroke-width="2.24" />
<path d="M928.2 200.0 L929.1 227.0" fill="none" stroke="#000" stroke-width="2.24" />
<path d="M933.6 200.0 C934.2 206.0 936.1 229.5 937.2 236.0 C938.2 242.4 939.4 238.2 939.9 238.7" fill="none" stroke="#000" stroke-width="2.24" />
<path d="M940.8 200.0 C941.1 206.6 942.6 227.6 942.6 239.6 C942.6 251.6 941.5 259.4 940.8 272.0 C940.0 284.6 938.5 308.0 938.1 315.2" fill="none" stroke="#000" stroke-width="2.24" />
<path d="M959.7 200.0 C959.8 206.0 960.7 224.0 960.6 236.0 C960.4 248.0 960.3 257.0 958.8 272.0 C957.3 287.0 952.8 317.0 951.6 326.0" fill="none" stroke="#000" stroke-width="2.24" />
<path d="M928.2 315.2 L935.4 314.3 L937.2 319.7" fill="none" stroke="#000" stroke-width="2.24" />
<path d="M839.1 309.8 C839.2 311.0 838.9 314.9 840.0 317.0 C841.0 319.1 843.0 321.3 845.4 322.4 C847.8 323.4 852.3 323.6 854.4 323.3 C856.5 323.0 857.4 321.0 858.0 320.6" fill="none" stroke="#000" stroke-width="2.24" />
<path d="M775.2 410.9 C776.4 405.8 778.8 388.7 782.4 380.0 C786.0 371.2 790.2 365.3 796.8 358.4 C803.4 351.5 811.8 344.0 822.0 338.6 C832.2 333.2 849.9 327.3 858.0 326.0 C866.1 324.6 868.5 329.7 870.6 330.5" fill="none" stroke="#000" stroke-width="2.24" />
<path d="M786.0 410.9 C787.2 405.8 789.6 388.7 793.2 380.0 C796.8 371.2 802.8 363.8 807.6 358.4 C812.4 353.0 814.2 351.2 822.0 347.6 C829.8 344.0 849.0 338.6 854.4 336.8" fill="none" stroke="#000" stroke-width="2.24" />
<path d="M778.8 394.4 C781.8 389.6 790.2 373.7 796.8 365.6 C803.4 357.5 814.8 349.1 818.4 345.8" fill="none" stroke="#000" stroke-width="2.24" />
<ellipse cx="705.9" cy="345.8" rx="11.2" ry="17.1" fill="none" stroke="#000" stroke-width="2.24" transform="rotate(35 705.9 345.8)"/>
<ellipse cx="705.0" cy="346.7" rx="8.1" ry="14.4" fill="none" stroke="#000" stroke-width="2.24" transform="rotate(35 705.0 346.7)"/>
<path d="M680.7 346.7 L726.6 335.9 L728.4 344.0 L682.5 356.6Z" fill="#fff" stroke="#000" stroke-width="2.24" />
<path d="M681.6 350.3 L727.5 339.5" fill="none" stroke="#000" stroke-width="1.8" />
<path d="M691.5 349.4 L692.4 354.8" fill="none" stroke="#000" stroke-width="1.8" />
<path d="M661.8 200.0 C662.4 209.0 664.9 239.0 665.4 254.0 C665.8 269.0 665.4 281.0 664.5 290.0 C663.6 299.0 660.7 305.0 660.0 308.0" fill="none" stroke="#000" stroke-width="2.24" />
<path d="M673.5 200.0 C673.9 212.0 675.9 251.0 676.2 272.0 C676.5 293.0 676.2 308.0 675.3 326.0 C674.4 344.0 672.0 365.8 670.8 380.0 C669.6 394.1 668.5 405.8 668.1 410.9" fill="none" stroke="#000" stroke-width="2.24" />
<path d="M660.0 349.4 L665.4 348.5 L666.3 360.2 L660.0 362.0" fill="none" stroke="#000" stroke-width="2.24" />
<path d="M712.2 225.2 C712.8 223.8 713.4 219.2 715.8 217.1 C718.2 215.0 720.9 213.6 726.6 212.6 C732.3 211.6 744.3 210.8 750.0 211.2 C755.7 211.6 759.0 214.6 760.8 215.3" fill="#000" stroke="#000" stroke-width="1.5" />
<path d="M712.2 225.2 L715.8 217.1 L726.6 212.6 L750.0 211.2 L760.8 215.3 L813.0 243.2 L876.0 279.2 L930.0 315.2 L957.0 333.2 L966.0 342.2 L966.0 347.6 L962.4 351.2 L948.0 353.0 L912.0 354.4 L903.0 351.2 L840.0 308.0 L786.0 275.6 L741.0 248.6 L715.8 232.4Z" fill="#000" stroke="#000" stroke-width="2.1" />
<path d="M421.2 552.0 L548.2 517.6 L585.3 507.1" fill="none" stroke="#000" stroke-width="2.24" />
<path d="M630.3 496.5 L770.6 459.4" fill="none" stroke="#000" stroke-width="2.24" />
<path d="M544.3 509.2 L585.3 499.1" fill="none" stroke="#000" stroke-width="2.24" />
<path d="M421.2 552.0 L426.5 536.2" fill="none" stroke="#000" stroke-width="2.24" />
<path d="M443.7 380.0 C444.1 388.8 445.7 416.0 446.3 432.9 C447.0 449.9 447.4 473.7 447.6 481.9" fill="none" stroke="#000" stroke-width="2.24" />
<path d="M400.0 431.6 L443.7 426.3" fill="none" stroke="#000" stroke-width="2.24" />
<path d="M400.0 438.2 L445.0 429.0" fill="none" stroke="#000" stroke-width="2.24" />
<path d="M462.2 451.5 L667.3 403.8 L770.6 380.0" fill="none" stroke="#000" stroke-width="2.24" />
<path d="M460.9 464.7 L664.7 417.1 L770.6 391.9" fill="none" stroke="#000" stroke-width="2.24" />
<path d="M770.6 391.9 C771.2 391.0 773.9 388.6 774.5 386.6 C775.2 384.6 774.5 381.1 774.5 380.0" fill="none" stroke="#000" stroke-width="2.24" />
<path d="M672.6 380.0 C672.0 385.3 670.0 403.8 668.7 411.8 C667.3 419.7 666.0 423.9 664.7 427.6 C663.4 431.4 661.4 433.2 660.7 434.3" fill="none" stroke="#000" stroke-width="2.24" />
<path d="M400.0 481.9 C402.2 483.9 409.3 488.7 413.2 493.8 C417.2 498.9 421.4 506.6 423.8 512.3 C426.2 518.1 427.4 523.8 427.8 528.2 C428.2 532.6 427.6 534.8 426.5 538.8 C425.4 542.8 422.1 549.8 421.2 552.0" fill="none" stroke="#000" stroke-width="2.24" />
<path d="M400.0 507.1 C401.3 509.7 406.0 516.8 407.9 522.9 C409.9 529.1 411.9 537.0 411.9 544.1 C411.9 551.2 409.9 557.8 407.9 565.3 C406.0 572.8 401.3 585.1 400.0 589.1" fill="none" stroke="#000" stroke-width="2.24" />
<path d="M422.5 496.5 L438.4 492.5 L439.7 487.2 L447.6 481.9 L460.9 488.5 L462.2 499.1 L467.5 503.1 L544.3 488.5 L554.8 496.5 L553.5 504.4 L542.9 508.4 L548.2 516.3 L546.9 522.9 L466.2 540.1 L442.4 536.2 L434.4 536.2 L427.8 517.6Z" fill="#000" stroke="#000" stroke-width="2.1" />
<path d="M554.8 491.2 L574.7 470.0 L614.4 463.4 L621.0 454.1 L654.1 442.2 L664.7 434.3 L675.3 438.2 L757.3 419.7 L781.2 407.8 L805.0 409.1 L812.9 425.0 L814.2 436.9 L765.3 451.5 L664.7 474.0 L634.3 481.9 L630.3 499.1 L625.0 515.0 L617.0 515.5 L603.8 509.7 L599.8 512.3 L590.6 512.3 L587.9 504.4 L585.3 496.5 L564.1 496.5Z" fill="#000" stroke="#000" stroke-width="2.1" />
<path d="M479.4 328.2 C479.4 321.6 480.3 318.5 482.1 315.0 C483.8 311.5 486.5 308.5 490.0 307.1 C493.5 305.6 499.3 305.6 503.2 306.5 C507.2 307.4 511.2 308.7 513.8 312.3 C516.5 316.0 518.0 322.1 519.1 328.2 C520.2 334.4 520.4 343.7 520.4 349.4 C520.4 355.1 520.7 359.3 519.1 362.6 C517.6 365.9 514.7 368.0 511.2 369.3 C507.6 370.5 501.9 370.7 497.9 370.0 C494.0 369.4 490.0 367.8 487.3 365.3 C484.7 362.7 483.4 360.9 482.1 354.7 C480.7 348.5 479.4 334.8 479.4 328.2Z" fill="none" stroke="#000" stroke-width="2.24" />
<path d="M504.6 307.1 C504.1 309.7 502.3 315.4 501.9 322.9 C501.5 330.4 501.5 344.3 501.9 352.0 C502.3 359.8 504.1 366.4 504.6 369.3" fill="none" stroke="#000" stroke-width="2.24" />
<path d="M486.0 311.0 C485.7 313.9 484.4 319.6 484.2 328.2 C484.0 336.8 484.6 356.9 484.7 362.6" fill="none" stroke="#000" stroke-width="2.24" />
<ellipse cx="466.7" cy="330.3" rx="10.6" ry="6.4" fill="none" stroke="#000" stroke-width="2.24" transform="rotate(0 466.7 330.3)"/>
<ellipse cx="465.6" cy="356.0" rx="10.6" ry="6.4" fill="none" stroke="#000" stroke-width="2.24" transform="rotate(0 465.6 356.0)"/>
<path d="M474.1 326.9 L479.4 332.2" fill="none" stroke="#000" stroke-width="2.24" />
<path d="M473.6 352.0 L479.4 356.8" fill="none" stroke="#000" stroke-width="2.24" />
<path d="M523.1 353.4 L558.8 344.6 L574.7 340.4" fill="none" stroke="#000" stroke-width="2.24" />
<path d="M524.4 349.4 L558.8 340.9 L585.3 333.5" fill="none" stroke="#000" stroke-width="2.24" />
<path d="M524.4 365.3 L569.4 354.7 L611.8 344.1" fill="none" stroke="#000" stroke-width="2.24" />
<path d="M668.9 411.1 L663.4 434.1" fill="none" stroke="#000" stroke-width="2.24" />
<ellipse cx="643.5" cy="358.7" rx="11.1" ry="18.0" fill="none" stroke="#000" stroke-width="2.24" transform="rotate(35 643.5 358.7)"/>
<ellipse cx="642.5" cy="360.0" rx="7.9" ry="14.8" fill="none" stroke="#000" stroke-width="2.24" transform="rotate(35 642.5 360.0)"/>
<path d="M619.7 361.3 L664.7 349.4 L666.0 357.3 L622.3 370.6Z" fill="#fff" stroke="#000" stroke-width="2.24" />
<path d="M621.0 365.3 L665.2 353.4" fill="none" stroke="#000" stroke-width="1.8" />
<path d="M630.3 362.6 L631.1 368.5" fill="none" stroke="#000" stroke-width="1.8" />
<path d="M580.0 232.9 C580.9 230.3 582.2 221.1 585.3 217.1 C588.4 213.0 594.1 209.6 598.5 208.6 C602.9 207.6 607.6 208.5 611.8 211.2 C615.9 214.0 620.6 219.2 623.7 225.0 C626.8 230.8 628.7 240.0 630.3 246.2 C631.8 252.3 632.5 259.4 632.9 262.1" fill="none" stroke="#000" stroke-width="2.24" />
<path d="M602.5 209.6 C604.5 212.6 611.8 219.4 614.4 227.6 C617.0 235.9 617.7 254.1 618.4 259.4" fill="none" stroke="#000" stroke-width="2.24" />
<path d="M578.7 246.2 L618.4 267.3" fill="none" stroke="#000" stroke-width="2.24" />
<path d="M578.7 246.2 C577.1 248.4 572.0 252.8 569.4 259.4 C566.8 266.0 563.9 281.5 562.8 285.9" fill="none" stroke="#000" stroke-width="2.24" />
<path d="M562.8 285.9 L606.5 311.0" fill="none" stroke="#000" stroke-width="3.12" />
<path d="M618.4 267.3 C617.3 271.3 613.7 283.9 611.8 291.2 C609.8 298.4 607.3 307.7 606.5 311.0" fill="none" stroke="#000" stroke-width="2.24" />
<path d="M619.7 271.3 L634.3 264.7 L648.8 275.3" fill="none" stroke="#000" stroke-width="2.24" />
<path d="M648.8 275.3 C649.0 277.9 651.0 285.9 650.1 291.2 C649.3 296.5 646.4 302.2 643.5 307.1 C640.6 311.9 634.7 318.1 632.9 320.3" fill="none" stroke="#000" stroke-width="2.24" />
<path d="M619.7 271.3 L625.0 281.9 L639.5 274.0" fill="none" stroke="#000" stroke-width="2.24" />
<path d="M529.7 227.6 C528.8 234.7 526.6 255.9 524.4 270.0 C522.2 284.1 517.8 305.3 516.5 312.3" fill="none" stroke="#000" stroke-width="2.24" />
<path d="M553.5 214.4 C552.6 219.7 549.6 237.3 548.2 246.2 C546.9 255.0 546.0 263.8 545.6 267.3" fill="none" stroke="#000" stroke-width="2.24" />
<path d="M556.2 213.1 L569.4 210.4 L572.0 215.7" fill="none" stroke="#000" stroke-width="2.24" />
<path d="M564.1 223.7 L578.7 219.7" fill="none" stroke="#000" stroke-width="2.24" />
<path d="M558.8 240.9 L574.7 247.5" fill="none" stroke="#000" stroke-width="2.24" />
<path d="M561.5 243.5 L572.0 222.4" fill="none" stroke="#000" stroke-width="2.24" />
<path d="M544.3 344.1 C546.7 335.7 554.6 309.7 558.8 293.8 C563.0 277.9 567.6 256.3 569.4 248.8" fill="none" stroke="#000" stroke-width="2.24" />
<path d="M524.4 279.3 L542.9 276.6" fill="none" stroke="#000" stroke-width="2.24" />
<path d="M527.1 293.8 L537.6 292.5" fill="none" stroke="#000" stroke-width="2.24" />
<path d="M638.2 242.2 C640.4 238.5 650.6 228.1 651.5 219.7 C652.3 211.3 644.8 196.5 643.5 191.9" fill="none" stroke="#000" stroke-width="2.24" />
<path d="M638.2 242.2 L650.1 250.1" fill="none" stroke="#000" stroke-width="2.24" />
<path d="M635.6 251.5 L650.1 255.4" fill="none" stroke="#000" stroke-width="2.24" />
<path d="M606.5 326.9 L617.0 272.6" fill="none" stroke="#000" stroke-width="2.24" />
<path d="M625.0 320.3 L630.3 270.0" fill="none" stroke="#000" stroke-width="2.24" />
<path d="M133.7 474.1 C133.4 475.4 131.7 479.4 132.3 482.1 C133.0 484.7 136.8 488.7 137.6 490.0" fill="none" stroke="#000" stroke-width="2.24" />
<path d="M137.6 490.0 L185.3 503.2 L217.0 501.9" fill="none" stroke="#000" stroke-width="2.24" />
<path d="M140.3 480.7 L185.3 492.6" fill="none" stroke="#000" stroke-width="2.24" />
<path d="M142.9 478.1 L144.3 486.0" fill="none" stroke="#000" stroke-width="2.24" />
<path d="M152.2 479.4 L153.5 488.7" fill="none" stroke="#000" stroke-width="2.24" />
<path d="M164.1 482.1 L166.2 491.3" fill="none" stroke="#000" stroke-width="2.24" />
<path d="M180.0 487.3 L182.6 496.6" fill="none" stroke="#000" stroke-width="2.24" />
<path d="M198.5 490.0 L197.2 499.3" fill="none" stroke="#000" stroke-width="2.24" />
<path d="M217.0 479.4 L217.0 501.9" fill="none" stroke="#000" stroke-width="2.24" />
<path d="M217.0 501.9 C225.0 500.8 244.8 498.2 264.7 495.3 C284.5 492.4 323.4 486.0 336.2 484.7 C349.0 483.4 340.6 486.9 341.5 487.3" fill="none" stroke="#000" stroke-width="2.24" />
<path d="M174.7 515.1 C179.1 515.6 186.2 518.9 201.2 517.8 C216.2 516.7 244.0 511.6 264.7 508.5 C285.4 505.4 315.4 500.8 325.6 499.3" fill="none" stroke="#000" stroke-width="2.24" />
<path d="M123.1 496.6 L158.8 509.8" fill="none" stroke="#000" stroke-width="2.24" />
<path d="M129.7 484.7 C126.6 486.5 116.2 490.9 111.2 495.3 C106.1 499.7 102.1 505.9 99.3 511.2 C96.4 516.5 93.7 522.6 94.0 527.1 C94.2 531.5 98.6 533.7 100.6 537.6 C102.6 541.6 105.0 548.7 105.9 550.9" fill="none" stroke="#000" stroke-width="2.24" />
<path d="M94.0 527.1 C100.4 530.1 121.5 540.7 132.3 545.6 C143.2 550.4 152.2 554.4 158.8 556.2 C165.4 557.9 168.1 557.9 172.0 556.2 C176.0 554.4 179.5 548.9 182.6 545.6 C185.7 542.3 189.3 537.9 190.6 536.3" fill="none" stroke="#000" stroke-width="2.24" />
<path d="M190.6 536.3 C202.9 534.3 246.6 527.3 264.7 524.4 C282.8 521.5 293.4 520.0 299.1 519.1" fill="none" stroke="#000" stroke-width="2.24" />
<path d="M25.1 476.8 C25.4 479.0 24.0 485.1 26.5 490.0 C28.9 494.8 33.1 498.8 39.7 505.9 C46.3 512.9 55.1 523.5 66.2 532.3 C77.2 541.2 92.6 550.9 105.9 558.8 C119.1 566.8 132.3 574.9 145.6 580.0 C158.8 585.1 172.0 587.3 185.3 589.3 C198.5 591.2 211.8 591.7 225.0 591.9 C238.2 592.1 256.3 591.7 264.7 590.6 C273.1 589.5 273.5 586.2 275.3 585.3" fill="none" stroke="#000" stroke-width="2.24" />
<path d="M39.7 500.6 C41.5 499.7 41.5 491.8 50.3 495.3 C59.1 498.8 85.6 517.3 92.6 521.8" fill="none" stroke="#000" stroke-width="2.24" />
<path d="M34.4 495.3 C41.9 502.3 66.6 527.1 79.4 537.6 C92.2 548.2 100.6 553.1 111.2 558.8 C121.8 564.5 132.3 569.0 142.9 572.0 C153.5 575.1 169.4 576.5 174.7 577.3" fill="none" stroke="#000" stroke-width="2.24" />
<path d="M60.9 527.1 L87.3 542.9 L105.9 552.2" fill="none" stroke="#000" stroke-width="3.08" />
<path d="M59.6 470.1 C62.9 472.1 72.6 479.6 79.4 482.1 C86.2 484.5 94.4 485.6 100.6 484.7 C106.8 483.8 112.5 480.3 116.5 476.8 C120.4 473.2 123.1 465.7 124.4 463.5" fill="none" stroke="#000" stroke-width="2.24" />
<path d="M84.7 486.0 C88.2 486.7 98.8 490.2 105.9 490.0 C112.9 489.8 123.5 485.6 127.1 484.7" fill="none" stroke="#000" stroke-width="2.24" />
<path d="M447.3 452.9 L448.7 484.7" fill="none" stroke="#000" stroke-width="2.24" />
<path d="M336.2 484.7 C338.8 483.6 345.4 479.6 352.0 478.1 C358.7 476.5 368.4 475.2 375.9 475.4 C383.4 475.7 390.9 477.0 397.0 479.4 C403.2 481.8 408.5 485.6 412.9 490.0 C417.3 494.4 421.1 500.1 423.5 505.9 C425.9 511.6 427.5 518.2 427.5 524.4 C427.5 530.6 424.6 538.3 423.5 542.9 C422.4 547.6 421.3 550.7 420.9 552.2" fill="none" stroke="#000" stroke-width="2.24" />
<path d="M354.7 479.4 C358.2 480.3 369.2 481.8 375.9 484.7 C382.5 487.6 389.5 491.8 394.4 496.6 C399.2 501.5 402.5 507.9 405.0 513.8 C407.4 519.8 407.2 527.3 408.9 532.3 C410.7 537.4 414.5 542.3 415.6 544.3" fill="none" stroke="#000" stroke-width="2.24" />
<ellipse cx="355.1" cy="565.1" rx="52.9" ry="67.5" fill="none" stroke="#000" stroke-width="2.24" transform="rotate(17 355.1 565.1)"/>
<path d="M324.4 495.3 C321.4 499.1 312.2 509.4 306.0 518.3 C299.9 527.2 292.5 538.8 287.6 549.0 C282.8 559.2 278.2 570.2 276.9 579.7 C275.6 589.1 276.4 598.3 279.9 605.8 C283.5 613.2 291.5 619.4 298.4 624.2 C305.3 628.9 313.4 632.7 321.4 634.1 C329.3 635.5 341.8 632.9 345.9 632.6" fill="none" stroke="#000" stroke-width="2.24" />
<path d="M332.1 498.4 C328.8 502.2 318.6 512.4 312.2 521.4 C305.8 530.3 298.4 542.3 293.8 552.1 C289.2 561.8 285.6 571.0 284.5 579.7 C283.5 588.4 284.5 597.3 287.6 604.2 C290.7 611.1 300.4 618.3 303.0 621.1" fill="none" stroke="#000" stroke-width="2.24" />
<path d="M327.5 496.8 C324.4 500.7 315.2 510.9 309.1 519.8 C303.0 528.8 295.4 540.5 290.7 550.5 C286.0 560.5 282.0 570.6 280.7 579.7 C279.4 588.7 279.7 597.8 283.0 605.0 C286.3 612.2 297.7 619.9 300.7 622.9" fill="none" stroke="#000" stroke-width="1.8" />
<ellipse cx="357.4" cy="563.6" rx="39.1" ry="47.6" fill="none" stroke="#000" stroke-width="2.24" transform="rotate(17 357.4 563.6)"/>
<ellipse cx="357.0" cy="564.3" rx="35.0" ry="43.3" fill="none" stroke="#000" stroke-width="2.24" transform="rotate(17 357.0 564.3)"/>
<ellipse cx="355.1" cy="562.8" rx="13.8" ry="17.6" fill="none" stroke="#000" stroke-width="2.24" transform="rotate(17 355.1 562.8)"/>
<ellipse cx="353.6" cy="558.2" rx="3.4" ry="6.1" fill="none" stroke="#000" stroke-width="2.24" transform="rotate(30 353.6 558.2)"/>
<ellipse cx="361.3" cy="561.3" rx="3.4" ry="2.8" fill="none" stroke="#000" stroke-width="3.12" transform="rotate(0 361.3 561.3)"/>
<ellipse cx="352.8" cy="572.8" rx="2.8" ry="4.6" fill="none" stroke="#000" stroke-width="2.24" transform="rotate(30 352.8 572.8)"/>
<path d="M345.9 564.3 L364.3 558.2" fill="none" stroke="#000" stroke-width="2.24" />
<path d="M352.1 552.1 L358.2 576.6" fill="none" stroke="#000" stroke-width="2.24" />
<path d="M353.6 521.4 L352.1 545.9" fill="none" stroke="#000" stroke-width="2.24" />
<path d="M361.3 520.6 L360.5 535.2 L367.4 544.4" fill="none" stroke="#000" stroke-width="2.24" />
<path d="M364.3 522.9 L365.9 529.0 L373.5 532.1 L379.7 529.8" fill="none" stroke="#000" stroke-width="2.24" />
<path d="M364.3 539.8 L372.0 543.6 L382.7 538.2" fill="none" stroke="#000" stroke-width="2.24" />
<path d="M373.5 558.2 L376.6 552.1 L385.8 549.0" fill="none" stroke="#000" stroke-width="2.24" />
<path d="M369.7 567.4 L375.1 558.2 L381.2 556.7" fill="none" stroke="#000" stroke-width="2.24" />
<path d="M373.5 570.5 L381.2 578.1" fill="none" stroke="#000" stroke-width="2.24" />
<path d="M382.7 539.8 L384.3 552.1" fill="none" stroke="#000" stroke-width="2.24" />
<path d="M367.4 581.2 L372.0 587.3 L358.2 582.7 L345.9 585.8 L339.8 595.0" fill="none" stroke="#000" stroke-width="2.24" />
<path d="M342.8 598.1 L345.9 591.9 L355.1 588.9" fill="none" stroke="#000" stroke-width="2.24" />
<path d="M352.1 585.8 L345.9 598.1" fill="none" stroke="#000" stroke-width="3.12" />
<path d="M349.0 590.4 L361.3 595.0" fill="none" stroke="#000" stroke-width="3.12" />
<path d="M324.4 555.1 C326.0 556.1 331.6 558.7 333.6 561.3 C335.7 563.8 336.2 566.9 336.7 570.5 C337.2 574.0 338.2 578.6 336.7 582.7 C335.2 586.8 329.0 593.0 327.5 595.0" fill="none" stroke="#000" stroke-width="2.24" />
<path d="M321.4 564.3 C322.6 565.3 327.5 567.7 329.0 570.5 C330.6 573.3 331.3 577.9 330.6 581.2 C329.8 584.5 325.5 588.9 324.4 590.4" fill="none" stroke="#000" stroke-width="2.24" />
<path d="M319.8 570.5 C320.3 572.0 322.8 576.9 322.9 579.7 C323.0 582.5 321.0 586.1 320.6 587.3" fill="none" stroke="#000" stroke-width="2.24" />
<path d="M327.5 552.1 L339.8 550.5 L347.5 542.8 L350.5 532.1" fill="none" stroke="#000" stroke-width="2.24" />
<path d="M329.0 547.5 L336.7 545.9 L342.8 538.2 L345.9 527.5" fill="none" stroke="#000" stroke-width="2.24" />
<path d="M332.1 542.8 L339.8 535.2 L340.5 531.3" fill="none" stroke="#000" stroke-width="2.24" />
<path d="M333.6 602.7 L370.5 584.3" fill="none" stroke="#000" stroke-width="2.24" />
<path d="M329.0 596.5 L333.6 604.2" fill="none" stroke="#000" stroke-width="2.24" />
<path d="M350.5 493.0 L352.1 498.4" fill="none" stroke="#000" stroke-width="4.65" />
<path d="M367.4 487.6 L372.0 493.8" fill="none" stroke="#000" stroke-width="4.65" />
<path d="M336.7 501.4 L339.8 506.0" fill="none" stroke="#000" stroke-width="4.65" />
<path d="M288.4 572.8 L297.6 572.0" fill="none" stroke="#000" stroke-width="4.65" />
<path d="M287.6 588.1 L296.8 587.3" fill="none" stroke="#000" stroke-width="4.65" />
<path d="M293.0 605.0 L299.9 605.8" fill="none" stroke="#000" stroke-width="4.65" />
<path d="M385.8 494.5 L382.7 496.8" fill="none" stroke="#000" stroke-width="4.65" />
<path d="M270.7 587.3 L286.1 611.9" fill="none" stroke="#000" stroke-width="3.08" />
<path d="M274.1 588.6 L289.5 613.7" fill="none" stroke="#000" stroke-width="3.08" />
<path d="M277.5 589.8 L292.8 615.6" fill="none" stroke="#000" stroke-width="3.08" />
<path d="M280.9 591.0 L296.2 617.4" fill="none" stroke="#000" stroke-width="3.08" />
<path d="M284.2 592.2 L299.6 619.3" fill="none" stroke="#000" stroke-width="3.08" />
<path d="M287.6 593.5 L303.0 621.1" fill="none" stroke="#000" stroke-width="3.08" />
<path d="M291.0 594.7 L306.3 622.9" fill="none" stroke="#000" stroke-width="3.08" />
<path d="M336.7 484.5 C338.2 483.8 340.8 481.5 345.9 479.9 C351.0 478.4 360.5 476.1 367.4 475.3 C374.3 474.6 380.9 474.3 387.3 475.3 C393.7 476.4 402.7 480.5 405.8 481.5" fill="none" stroke="#000" stroke-width="2.24" />
<path d="M260.0 497.6 L332.1 484.5 L338.2 485.3" fill="none" stroke="#000" stroke-width="2.24" />
<path d="M260.0 512.2 L324.4 499.1" fill="none" stroke="#000" stroke-width="2.24" />
<path d="M260.0 527.5 L304.5 519.1" fill="none" stroke="#000" stroke-width="2.24" />
<path d="M260.0 591.9 C261.5 591.7 266.6 592.5 269.2 590.4 C271.8 588.4 274.3 581.5 275.3 579.7" fill="none" stroke="#000" stroke-width="2.24" />
<path d="M134.6 472.5 C141.3 473.8 161.2 478.0 174.8 480.3 C188.4 482.6 209.1 485.5 216.0 486.5" fill="none" stroke="#000" stroke-width="2.24" />
<ellipse cx="841.3" cy="445.9" rx="40.2" ry="60.2" fill="none" stroke="#000" stroke-width="2.24" transform="rotate(26 841.3 445.9)"/>
<ellipse cx="842.5" cy="444.4" rx="28.4" ry="41.1" fill="none" stroke="#000" stroke-width="2.24" transform="rotate(26 842.5 444.4)"/>
<ellipse cx="842.5" cy="444.7" rx="25.3" ry="37.6" fill="none" stroke="#000" stroke-width="2.24" transform="rotate(26 842.5 444.7)"/>
<ellipse cx="839.8" cy="443.1" rx="9.5" ry="14.6" fill="none" stroke="#000" stroke-width="2.24" transform="rotate(26 839.8 443.1)"/>
<path d="M768.4 459.7 C769.2 462.8 770.1 472.8 773.0 478.1 C775.9 483.5 780.8 487.9 786.0 491.9 C791.3 496.0 798.8 500.9 804.5 502.7 C810.1 504.5 817.3 502.7 819.8 502.7" fill="none" stroke="#000" stroke-width="2.24" />
<path d="M774.5 458.2 C775.3 461.0 776.5 470.2 779.1 475.1 C781.8 479.9 786.2 483.8 790.6 487.3 C795.1 490.9 803.4 495.0 806.0 496.6" fill="none" stroke="#000" stroke-width="2.24" />
<path d="M818.3 379.9 C819.6 378.8 822.6 374.7 826.0 373.0 C829.3 371.3 833.6 369.3 838.2 369.9 C842.8 370.6 849.5 374.4 853.6 376.8 C857.7 379.3 861.3 383.2 862.8 384.5" fill="none" stroke="#000" stroke-width="2.24" />
<path d="M801.4 404.5 C802.9 402.2 806.5 395.5 810.6 390.6 C814.7 385.8 823.4 377.9 826.0 375.3" fill="none" stroke="#000" stroke-width="2.24" />
<path d="M806.0 407.5 C807.5 405.2 811.4 398.3 815.2 393.7 C819.0 389.1 826.7 382.2 829.0 379.9" fill="none" stroke="#000" stroke-width="2.24" />
<path d="M810.6 412.1 C812.1 409.8 816.2 402.7 819.8 398.3 C823.4 394.0 830.0 388.1 832.1 386.0" fill="none" stroke="#000" stroke-width="2.24" />
<path d="M821.3 378.4 L832.1 376.1" fill="none" stroke="#000" stroke-width="5.27" />
<path d="M826.0 386.0 L838.2 383.0" fill="none" stroke="#000" stroke-width="5.27" />
<path d="M835.2 386.0 L839.8 384.5" fill="none" stroke="#000" stroke-width="5.27" />
<path d="M850.5 381.4 L852.0 386.0" fill="none" stroke="#000" stroke-width="5.27" />
<path d="M822.9 392.2 L827.5 395.3" fill="none" stroke="#000" stroke-width="5.27" />
<path d="M773.0 447.4 L778.4 478.1" fill="none" stroke="#000" stroke-width="3.12" stroke-dasharray="7 4"/>
<path d="M775.8 448.4 L781.1 480.0" fill="none" stroke="#000" stroke-width="3.12" stroke-dasharray="7 4"/>
<path d="M778.5 449.3 L783.9 481.8" fill="none" stroke="#000" stroke-width="3.12" stroke-dasharray="7 4"/>
<path d="M781.3 450.2 L786.7 483.7" fill="none" stroke="#000" stroke-width="3.12" stroke-dasharray="7 4"/>
<path d="M784.0 451.1 L789.4 485.5" fill="none" stroke="#000" stroke-width="3.12" stroke-dasharray="7 4"/>
<path d="M786.8 452.0 L792.2 487.3" fill="none" stroke="#000" stroke-width="3.12" stroke-dasharray="7 4"/>
<path d="M789.6 453.0 L794.9 489.2" fill="none" stroke="#000" stroke-width="3.12" stroke-dasharray="7 4"/>
<path d="M792.3 453.9 L797.7 491.0" fill="none" stroke="#000" stroke-width="3.12" stroke-dasharray="7 4"/>
<path d="M795.1 454.8 L800.5 492.9" fill="none" stroke="#000" stroke-width="3.12" stroke-dasharray="7 4"/>
<path d="M838.2 412.1 L837.5 429.0" fill="none" stroke="#000" stroke-width="2.24" />
<path d="M845.9 409.1 L845.9 419.8 L853.6 426.0 L862.8 419.8" fill="none" stroke="#000" stroke-width="2.24" />
<path d="M847.4 412.1 L853.6 416.7 L861.3 412.1" fill="none" stroke="#000" stroke-width="2.24" />
<path d="M816.7 432.1 C817.8 431.6 820.6 431.1 822.9 429.0 C825.2 427.0 828.8 422.6 830.6 419.8 C832.3 417.0 833.1 413.4 833.6 412.1" fill="none" stroke="#000" stroke-width="2.24" />
<path d="M819.8 433.6 C821.1 432.6 825.4 430.3 827.5 427.5 C829.5 424.7 831.3 418.5 832.1 416.7" fill="none" stroke="#000" stroke-width="3.12" />
<path d="M813.7 447.4 C814.7 447.2 818.0 445.1 819.8 445.9 C821.6 446.7 823.9 449.2 824.4 452.0 C824.9 454.9 824.2 459.7 822.9 462.8 C821.6 465.9 817.8 469.2 816.7 470.5" fill="none" stroke="#000" stroke-width="2.24" />
<path d="M815.2 450.5 C816.0 451.0 819.2 451.5 819.8 453.6 C820.5 455.6 819.2 461.3 819.0 462.8" fill="none" stroke="#000" stroke-width="2.24" />
<path d="M856.6 438.2 L862.8 432.1 L865.9 426.0" fill="none" stroke="#000" stroke-width="2.24" />
<path d="M853.6 450.5 L859.7 438.2" fill="none" stroke="#000" stroke-width="2.24" />
<path d="M855.1 453.6 L859.7 456.6" fill="none" stroke="#000" stroke-width="2.24" />
<path d="M861.3 441.3 L862.8 453.6" fill="none" stroke="#000" stroke-width="2.24" />
<path d="M821.3 476.6 L832.1 462.8 L847.4 458.2 L855.1 462.8" fill="none" stroke="#000" stroke-width="2.24" />
<path d="M826.0 475.1 L835.2 467.4 L847.4 465.9" fill="none" stroke="#000" stroke-width="2.24" />
<path d="M832.1 472.0 L838.2 461.3" fill="none" stroke="#000" stroke-width="3.38" />
<path d="M835.2 470.5 L845.9 462.8" fill="none" stroke="#000" stroke-width="3.38" />
<path d="M832.1 438.2 L847.4 447.4" fill="none" stroke="#000" stroke-width="3.38" />
<path d="M839.8 430.6 L838.2 456.6" fill="none" stroke="#000" stroke-width="3.38" />
<path d="M833.6 450.5 L847.4 435.2" fill="none" stroke="#000" stroke-width="2.24" />
<path d="M834.4 366.9 C836.6 366.2 842.7 363.8 847.4 363.0 C852.2 362.3 858.2 361.2 862.8 362.3 C867.4 363.3 871.5 365.7 875.1 369.2 C878.6 372.6 882.1 377.6 884.3 383.0 C886.4 388.3 887.6 395.3 888.1 401.4 C888.6 407.5 887.9 415.0 887.3 419.8 C886.8 424.7 885.4 428.8 885.0 430.6" fill="none" stroke="#000" stroke-width="2.24" />
<path d="M862.8 384.5 C864.8 386.6 871.7 392.4 875.1 396.8 C878.4 401.1 881.2 406.3 882.7 410.6 C884.3 415.0 884.0 420.8 884.3 422.9" fill="none" stroke="#000" stroke-width="2.24" />
<path d="M885.0 430.6 C890.3 428.3 907.9 421.1 916.5 416.7 C925.1 412.4 931.6 408.6 936.5 404.5 C941.3 400.4 943.1 398.8 945.7 392.2 C948.2 385.5 949.9 371.2 951.8 364.6 C953.7 357.9 956.3 354.3 957.2 352.3" fill="none" stroke="#000" stroke-width="2.24" />
<path d="M868.2 360.0 L873.5 357.7 L905.8 350.7" fill="none" stroke="#000" stroke-width="2.24" />
<path d="M883.5 369.2 L953.3 351.5" fill="none" stroke="#000" stroke-width="2.24" />
<path d="M891.9 381.4 L950.3 363.8" fill="none" stroke="#000" stroke-width="2.24" />
<path d="M942.6 389.1 L946.4 386.0 L947.2 390.6" fill="none" stroke="#000" stroke-width="2.24" />
<path d="M740.0 467.4 L768.4 459.7" fill="none" stroke="#000" stroke-width="2.24" />
</svg></body></html>
